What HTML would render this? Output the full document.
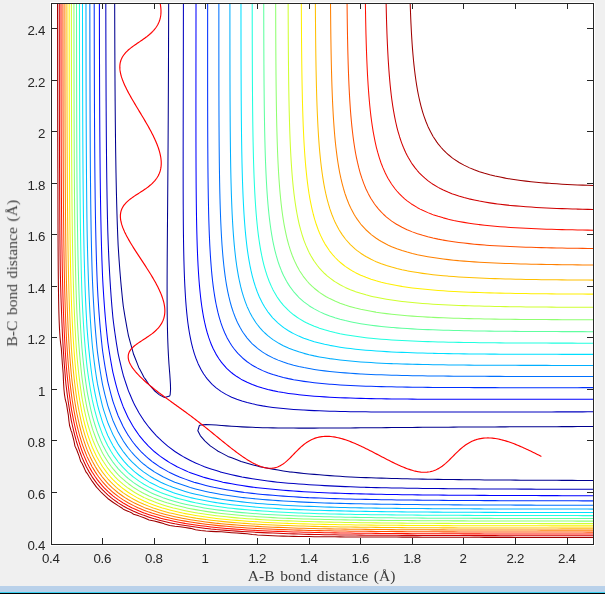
<!DOCTYPE html><html><head><meta charset="utf-8"><title>LEPS contour</title><style>
html,body{margin:0;padding:0;background:#f0f0f0;overflow:hidden}
svg{display:block}
.t{font-family:"Liberation Sans",Arial,Helvetica,sans-serif;font-size:13.3px;fill:#262626;letter-spacing:-0.3px}
.l{font-family:"Liberation Serif","Times New Roman",serif;font-size:15.5px;fill:#3c3c3c;letter-spacing:0.07px;word-spacing:1.5px}
</style></head><body>
<svg width="605" height="594" viewBox="0 0 605 594">
<rect x="0" y="0" width="605" height="594" fill="#f0f0f0"/>
<rect x="0" y="586" width="605" height="6" fill="#b9d1ea"/>
<rect x="0" y="592" width="605" height="1" fill="#3ccff0"/>
<rect x="0" y="593" width="605" height="1" fill="#000"/>
<rect x="50" y="2" width="545" height="544" fill="#fff"/>
<clipPath id="c"><rect x="51.5" y="3.5" width="542" height="541"/></clipPath>
<g clip-path="url(#c)" fill="none" stroke-width="1.05" stroke-linejoin="round">
<path stroke="#00008f" d="M593.00,480.44 L587.84,480.43 L582.68,480.42 L577.51,480.40 L572.35,480.38 L567.19,480.37 L562.03,480.35 L556.87,480.33 L551.70,480.31 L546.54,480.29 L541.38,480.26 L536.22,480.24 L531.06,480.21 L525.90,480.19 L520.73,480.16 L515.57,480.13 L510.41,480.09 L505.25,480.06 L500.09,480.02 L494.92,479.98 L489.76,479.94 L484.60,479.90 L479.44,479.85 L474.28,479.80 L469.11,479.75 L463.95,479.70 L458.79,479.64 L453.63,479.58 L448.47,479.51 L443.30,479.44 L438.14,479.36 L432.98,479.28 L427.82,479.20 L422.66,479.11 L417.50,479.01 L412.33,478.91 L407.17,478.80 L402.01,478.68 L396.85,478.55 L391.69,478.42 L386.52,478.28 L381.36,478.13 L376.20,477.97 L371.04,477.80 L365.88,477.62 L360.71,477.42 L355.55,477.22 L350.91,477.02 L350.39,476.99 L345.23,476.68 L340.07,476.34 L334.90,475.99 L329.74,475.62 L324.58,475.22 L319.42,474.81 L314.26,474.36 L309.10,473.90 L303.93,473.40 L298.77,472.89 L293.61,472.34 L289.38,471.87 L288.45,471.72 L283.29,470.90 L278.12,470.03 L272.96,469.14 L267.80,468.22 L262.64,467.26 L259.79,466.71 L257.48,466.10 L252.31,464.68 L247.15,463.26 L241.99,461.83 L241.06,461.56 L236.83,459.86 L231.67,457.85 L227.90,456.41 L226.50,455.64 L221.34,452.88 L218.10,451.26 L216.18,449.83 L211.02,446.40 L210.56,446.10 L205.86,441.80 L204.80,440.95 L200.70,436.07 L200.43,435.80 L197.85,430.65 L199.38,425.50 L200.70,425.05 L205.86,424.64 L211.02,424.79 L216.18,425.10 L221.34,425.45 L221.95,425.50 L226.50,425.88 L231.67,426.26 L236.83,426.60 L241.99,426.89 L247.15,427.14 L252.31,427.35 L257.48,427.52 L262.64,427.67 L267.80,427.79 L272.96,427.89 L278.12,427.96 L283.29,428.02 L288.45,428.06 L293.61,428.09 L298.77,428.11 L303.93,428.12 L309.10,428.11 L314.26,428.11 L319.42,428.09 L324.58,428.07 L329.74,428.04 L334.90,428.01 L340.07,427.98 L345.23,427.95 L350.39,427.91 L355.55,427.87 L360.71,427.83 L365.88,427.79 L371.04,427.75 L376.20,427.70 L381.36,427.66 L386.52,427.62 L391.69,427.58 L396.85,427.53 L402.01,427.49 L407.17,427.45 L412.33,427.41 L417.50,427.37 L422.66,427.34 L427.82,427.30 L432.98,427.26 L438.14,427.23 L443.30,427.19 L448.47,427.16 L453.63,427.12 L458.79,427.09 L463.95,427.06 L469.11,427.03 L474.28,427.00 L479.44,426.97 L484.60,426.95 L489.76,426.92 L494.92,426.90 L500.09,426.87 L505.25,426.85 L510.41,426.82 L515.57,426.80 L520.73,426.78 L525.90,426.76 L531.06,426.74 L536.22,426.72 L541.38,426.70 L546.54,426.69 L551.70,426.67 L556.87,426.65 L562.03,426.64 L567.19,426.62 L572.35,426.61 L577.51,426.59 L582.68,426.58 L587.84,426.57 L593.00,426.55 M168.66,3.00 L168.65,8.15 L168.64,13.30 L168.62,18.46 L168.61,23.61 L168.60,28.76 L168.58,33.91 L168.56,39.07 L168.55,44.22 L168.53,49.37 L168.51,54.52 L168.49,59.68 L168.48,64.83 L168.46,69.98 L168.44,75.13 L168.41,80.29 L168.39,85.44 L168.37,90.59 L168.34,95.74 L168.32,100.90 L168.29,106.05 L168.27,111.20 L168.24,116.35 L168.21,121.50 L168.18,126.66 L168.15,131.81 L168.12,136.96 L168.09,142.11 L168.06,147.27 L168.02,152.42 L167.99,157.57 L167.95,162.72 L167.92,167.88 L167.88,173.03 L167.84,178.18 L167.80,183.33 L167.76,188.49 L167.72,193.64 L167.68,198.79 L167.64,203.94 L167.60,209.10 L167.55,214.25 L167.51,219.40 L167.47,224.55 L167.43,229.70 L167.39,234.86 L167.35,240.01 L167.31,245.16 L167.27,250.31 L167.23,255.47 L167.20,260.62 L167.17,265.77 L167.15,270.92 L167.12,276.08 L167.11,281.23 L167.10,286.38 L167.10,291.53 L167.11,296.69 L167.12,301.84 L167.15,306.99 L167.19,312.14 L167.25,317.30 L167.33,322.45 L167.43,327.60 L167.55,332.75 L167.69,337.90 L167.87,343.06 L168.08,348.21 L168.33,353.36 L168.62,358.51 L168.95,363.67 L169.34,368.82 L169.72,373.37 L169.77,373.97 L170.12,379.12 L170.43,384.28 L170.58,389.43 L170.17,394.58 L169.72,395.89 L164.56,397.42 L159.40,394.85 L159.13,394.58 L154.24,390.49 L153.39,389.43 L149.08,384.74 L148.78,384.28 L145.34,379.12 L143.91,377.20 L142.29,373.97 L139.52,368.82 L138.75,367.43 L137.31,363.67 L135.29,358.51 L133.59,354.29 L133.32,353.36 L131.89,348.21 L130.47,343.06 L129.05,337.90 L128.43,335.59 L127.88,332.75 L126.92,327.60 L126.00,322.45 L125.10,317.30 L124.24,312.14 L123.41,306.99 L123.27,306.06 L122.79,301.84 L122.25,296.69 L121.73,291.53 L121.23,286.38 L120.76,281.23 L120.32,276.08 L119.90,270.92 L119.51,265.77 L119.13,260.62 L118.78,255.47 L118.45,250.31 L118.13,245.16 L118.10,244.65 L117.91,240.01 L117.70,234.86 L117.51,229.70 L117.32,224.55 L117.15,219.40 L116.99,214.25 L116.84,209.10 L116.70,203.94 L116.57,198.79 L116.44,193.64 L116.32,188.49 L116.21,183.33 L116.11,178.18 L116.01,173.03 L115.92,167.88 L115.84,162.72 L115.76,157.57 L115.68,152.42 L115.61,147.27 L115.54,142.11 L115.48,136.96 L115.42,131.81 L115.37,126.66 L115.31,121.50 L115.27,116.35 L115.22,111.20 L115.18,106.05 L115.13,100.90 L115.10,95.74 L115.06,90.59 L115.02,85.44 L114.99,80.29 L114.96,75.13 L114.93,69.98 L114.91,64.83 L114.88,59.68 L114.86,54.52 L114.83,49.37 L114.81,44.22 L114.79,39.07 L114.77,33.91 L114.75,28.76 L114.73,23.61 L114.72,18.46 L114.70,13.30 L114.69,8.15 L114.67,3.00"/>
<path stroke="#0000bf" d="M593.00,489.29 L587.84,489.29 L582.68,489.28 L577.51,489.27 L572.35,489.25 L567.19,489.24 L562.03,489.23 L556.87,489.22 L551.70,489.21 L546.54,489.19 L541.38,489.18 L536.22,489.16 L531.06,489.14 L525.90,489.12 L520.73,489.11 L515.57,489.09 L510.41,489.06 L505.25,489.04 L500.09,489.02 L494.92,488.99 L489.76,488.96 L484.60,488.93 L479.44,488.90 L474.28,488.87 L469.11,488.84 L463.95,488.80 L458.79,488.76 L453.63,488.72 L448.47,488.67 L443.30,488.62 L438.14,488.57 L432.98,488.52 L427.82,488.46 L422.66,488.40 L417.50,488.33 L412.33,488.26 L407.17,488.18 L402.01,488.10 L396.85,488.02 L391.69,487.92 L386.52,487.82 L381.36,487.72 L376.20,487.61 L371.04,487.49 L365.88,487.36 L364.62,487.32 L360.71,487.19 L355.55,487.01 L350.39,486.81 L345.23,486.61 L340.07,486.38 L334.90,486.14 L329.74,485.89 L324.58,485.62 L319.42,485.33 L314.26,485.02 L309.10,484.69 L303.93,484.34 L298.77,483.97 L293.61,483.58 L288.45,483.15 L283.29,482.71 L278.12,482.23 L277.52,482.17 L272.96,481.61 L267.80,480.94 L262.64,480.24 L257.48,479.49 L252.31,478.71 L247.15,477.89 L241.99,477.02 L241.98,477.02 L236.83,475.88 L231.67,474.70 L226.50,473.47 L221.34,472.20 L220.08,471.87 L216.18,470.62 L211.02,468.93 L205.86,467.21 L204.45,466.71 L200.70,465.13 L195.53,462.92 L192.44,461.56 L190.37,460.48 L185.21,457.74 L182.75,456.41 L180.05,454.71 L174.89,451.45 L174.60,451.26 L169.72,447.61 L167.75,446.10 L164.56,443.41 L161.75,440.95 L159.40,438.73 L156.46,435.80 L154.24,433.46 L151.77,430.65 L149.08,427.46 L147.57,425.50 L143.91,420.63 L143.73,420.34 L140.46,415.19 L138.75,412.49 L137.42,410.04 L134.67,404.89 L133.59,402.82 L132.23,399.73 L130.02,394.58 L128.43,390.83 L127.94,389.43 L126.21,384.28 L124.51,379.12 L123.27,375.23 L122.94,373.97 L121.66,368.82 L120.43,363.67 L119.25,358.51 L118.10,353.37 L118.10,353.36 L117.24,348.21 L116.41,343.06 L115.63,337.90 L114.88,332.75 L114.17,327.60 L113.50,322.45 L112.94,317.89 L112.88,317.30 L112.41,312.14 L111.96,306.99 L111.54,301.84 L111.14,296.69 L110.77,291.53 L110.42,286.38 L110.09,281.23 L109.78,276.08 L109.49,270.92 L109.22,265.77 L108.96,260.62 L108.72,255.47 L108.50,250.31 L108.29,245.16 L108.09,240.01 L107.91,234.86 L107.78,230.96 L107.75,229.70 L107.62,224.55 L107.50,219.40 L107.38,214.25 L107.28,209.10 L107.18,203.94 L107.09,198.79 L107.00,193.64 L106.92,188.49 L106.84,183.33 L106.77,178.18 L106.71,173.03 L106.64,167.88 L106.59,162.72 L106.53,157.57 L106.48,152.42 L106.43,147.27 L106.39,142.11 L106.34,136.96 L106.30,131.81 L106.27,126.66 L106.23,121.50 L106.20,116.35 L106.17,111.20 L106.14,106.05 L106.11,100.90 L106.08,95.74 L106.06,90.59 L106.04,85.44 L106.02,80.29 L106.00,75.13 L105.98,69.98 L105.96,64.83 L105.94,59.68 L105.93,54.52 L105.91,49.37 L105.90,44.22 L105.88,39.07 L105.87,33.91 L105.86,28.76 L105.85,23.61 L105.84,18.46 L105.83,13.30 L105.82,8.15 L105.81,3.00 M183.41,3.00 L183.41,8.15 L183.40,13.30 L183.39,18.46 L183.38,23.61 L183.37,28.76 L183.36,33.91 L183.36,39.07 L183.35,44.22 L183.34,49.37 L183.33,54.52 L183.32,59.68 L183.31,64.83 L183.30,69.98 L183.29,75.13 L183.28,80.29 L183.27,85.44 L183.26,90.59 L183.25,95.74 L183.24,100.90 L183.23,106.05 L183.22,111.20 L183.21,116.35 L183.20,121.50 L183.19,126.66 L183.18,131.81 L183.18,136.96 L183.17,142.11 L183.16,147.27 L183.16,152.42 L183.16,157.57 L183.15,162.72 L183.15,167.88 L183.15,173.03 L183.16,178.18 L183.16,183.33 L183.17,188.49 L183.18,193.64 L183.20,198.79 L183.21,203.94 L183.24,209.10 L183.27,214.25 L183.30,219.40 L183.34,224.55 L183.39,229.70 L183.45,234.86 L183.52,240.01 L183.60,245.16 L183.69,250.31 L183.80,255.47 L183.92,260.62 L184.06,265.77 L184.22,270.92 L184.41,276.08 L184.62,281.23 L184.87,286.38 L185.15,291.53 L185.21,292.46 L185.46,296.69 L185.81,301.84 L186.22,306.99 L186.69,312.14 L187.22,317.30 L187.84,322.45 L188.56,327.60 L189.39,332.75 L190.36,337.90 L190.37,337.95 L191.45,343.06 L192.73,348.21 L194.24,353.36 L195.53,357.14 L196.02,358.51 L198.11,363.67 L200.64,368.82 L200.70,368.91 L203.68,373.97 L205.86,377.07 L207.44,379.12 L211.02,383.14 L212.15,384.28 L216.18,387.85 L218.24,389.43 L221.34,391.60 L226.41,394.58 L226.50,394.63 L231.67,397.16 L236.83,399.25 L238.21,399.73 L241.99,401.03 L247.15,402.53 L252.31,403.81 L257.43,404.89 L257.48,404.90 L262.64,405.86 L267.80,406.69 L272.96,407.41 L278.12,408.03 L283.29,408.56 L288.45,409.03 L293.61,409.43 L298.77,409.79 L303.01,410.04 L303.93,410.10 L309.10,410.38 L314.26,410.62 L319.42,410.84 L324.58,411.02 L329.74,411.19 L334.90,411.33 L340.07,411.45 L345.23,411.56 L350.39,411.65 L355.55,411.73 L360.71,411.79 L365.88,411.85 L371.04,411.90 L376.20,411.94 L381.36,411.98 L386.52,412.01 L391.69,412.03 L396.85,412.05 L402.01,412.06 L407.17,412.07 L412.33,412.08 L417.50,412.09 L422.66,412.09 L427.82,412.09 L432.98,412.09 L438.14,412.09 L443.30,412.08 L448.47,412.08 L453.63,412.07 L458.79,412.07 L463.95,412.06 L469.11,412.05 L474.28,412.04 L479.44,412.03 L484.60,412.02 L489.76,412.01 L494.92,412.00 L500.09,411.99 L505.25,411.98 L510.41,411.97 L515.57,411.96 L520.73,411.96 L525.90,411.95 L531.06,411.94 L536.22,411.93 L541.38,411.92 L546.54,411.91 L551.70,411.90 L556.87,411.89 L562.03,411.88 L567.19,411.87 L572.35,411.86 L577.51,411.85 L582.68,411.85 L587.84,411.84 L593.00,411.83"/>
<path stroke="#0000ff" d="M593.00,495.70 L587.84,495.69 L582.68,495.69 L577.51,495.68 L572.35,495.67 L567.19,495.66 L562.03,495.65 L556.87,495.64 L551.70,495.63 L546.54,495.61 L541.38,495.60 L536.22,495.59 L531.06,495.57 L525.90,495.56 L520.73,495.54 L515.57,495.52 L510.41,495.50 L505.25,495.48 L500.09,495.46 L494.92,495.44 L489.76,495.42 L484.60,495.39 L479.44,495.37 L474.28,495.34 L469.11,495.31 L463.95,495.28 L458.79,495.24 L453.63,495.20 L448.47,495.17 L443.30,495.12 L438.14,495.08 L432.98,495.03 L427.82,494.98 L422.66,494.93 L417.50,494.87 L412.33,494.81 L407.17,494.74 L402.01,494.67 L396.85,494.59 L391.69,494.51 L386.52,494.42 L381.36,494.33 L376.20,494.23 L371.04,494.13 L365.88,494.01 L360.71,493.89 L355.55,493.76 L350.39,493.62 L345.23,493.47 L340.07,493.31 L334.90,493.14 L329.74,492.96 L324.58,492.76 L319.42,492.55 L317.71,492.48 L314.26,492.29 L309.10,492.00 L303.93,491.69 L298.77,491.36 L293.61,491.00 L288.45,490.62 L283.29,490.22 L278.12,489.79 L272.96,489.33 L267.80,488.84 L262.64,488.32 L257.48,487.76 L253.64,487.32 L252.31,487.14 L247.15,486.38 L241.99,485.58 L236.83,484.73 L231.67,483.84 L226.50,482.89 L222.78,482.17 L221.34,481.84 L216.18,480.57 L211.02,479.25 L205.86,477.87 L202.84,477.02 L200.70,476.31 L195.53,474.50 L190.37,472.64 L188.33,471.87 L185.21,470.49 L180.05,468.13 L177.07,466.71 L174.89,465.52 L169.72,462.60 L167.98,461.56 L164.56,459.28 L160.41,456.41 L159.40,455.64 L154.24,451.48 L153.98,451.26 L149.08,446.68 L148.50,446.10 L143.91,441.21 L143.69,440.95 L139.53,435.80 L138.75,434.79 L135.88,430.65 L133.59,427.23 L132.55,425.50 L129.62,420.34 L128.43,418.16 L127.01,415.19 L124.64,410.04 L123.27,406.93 L122.49,404.89 L120.62,399.73 L118.82,394.58 L118.10,392.44 L117.25,389.43 L115.87,384.28 L114.55,379.12 L113.28,373.97 L112.94,372.53 L112.22,368.82 L111.28,363.67 L110.38,358.51 L109.53,353.36 L108.72,348.21 L107.96,343.06 L107.78,341.74 L107.34,337.90 L106.79,332.75 L106.26,327.60 L105.77,322.45 L105.31,317.30 L104.88,312.14 L104.48,306.99 L104.10,301.84 L103.74,296.69 L103.41,291.53 L103.09,286.38 L102.80,281.23 L102.62,277.78 L102.54,276.08 L102.33,270.92 L102.14,265.77 L101.95,260.62 L101.78,255.47 L101.62,250.31 L101.47,245.16 L101.33,240.01 L101.20,234.86 L101.08,229.70 L100.97,224.55 L100.86,219.40 L100.76,214.25 L100.67,209.10 L100.58,203.94 L100.50,198.79 L100.42,193.64 L100.35,188.49 L100.29,183.33 L100.22,178.18 L100.16,173.03 L100.11,167.88 L100.06,162.72 L100.01,157.57 L99.97,152.42 L99.93,147.27 L99.89,142.11 L99.85,136.96 L99.81,131.81 L99.78,126.66 L99.75,121.50 L99.72,116.35 L99.70,111.20 L99.67,106.05 L99.65,100.90 L99.63,95.74 L99.60,90.59 L99.59,85.44 L99.57,80.29 L99.55,75.13 L99.53,69.98 L99.52,64.83 L99.50,59.68 L99.49,54.52 L99.48,49.37 L99.46,44.22 L99.45,39.07 L99.44,33.91 L99.43,28.76 L99.42,23.61 L99.41,18.46 L99.40,13.30 L99.40,8.15 L99.39,3.00 M196.01,3.00 L196.01,8.15 L196.00,13.30 L196.00,18.46 L195.99,23.61 L195.99,28.76 L195.98,33.91 L195.98,39.07 L195.97,44.22 L195.97,49.37 L195.96,54.52 L195.96,59.68 L195.95,64.83 L195.95,69.98 L195.95,75.13 L195.94,80.29 L195.94,85.44 L195.94,90.59 L195.94,95.74 L195.93,100.90 L195.93,106.05 L195.93,111.20 L195.94,116.35 L195.94,121.50 L195.94,126.66 L195.95,131.81 L195.95,136.96 L195.96,142.11 L195.97,147.27 L195.99,152.42 L196.00,157.57 L196.02,162.72 L196.04,167.88 L196.07,173.03 L196.10,178.18 L196.13,183.33 L196.17,188.49 L196.22,193.64 L196.27,198.79 L196.33,203.94 L196.40,209.10 L196.47,214.25 L196.56,219.40 L196.66,224.55 L196.77,229.70 L196.90,234.86 L197.04,240.01 L197.20,245.16 L197.38,250.31 L197.59,255.47 L197.82,260.62 L198.08,265.77 L198.38,270.92 L198.71,276.08 L199.09,281.23 L199.52,286.38 L200.01,291.53 L200.56,296.69 L200.70,297.83 L201.18,301.84 L201.88,306.99 L202.68,312.14 L203.60,317.30 L204.65,322.45 L205.86,327.57 L205.86,327.60 L207.26,332.75 L208.87,337.90 L210.76,343.06 L211.02,343.69 L212.98,348.21 L215.60,353.36 L216.18,354.38 L218.74,358.51 L221.34,362.14 L222.55,363.67 L226.50,368.08 L227.24,368.82 L231.67,372.77 L233.20,373.97 L236.83,376.57 L240.97,379.12 L241.99,379.71 L247.15,382.32 L251.68,384.28 L252.31,384.54 L257.48,386.42 L262.64,388.03 L267.80,389.42 L267.83,389.43 L272.96,390.63 L278.12,391.68 L283.29,392.60 L288.45,393.40 L293.61,394.10 L297.63,394.58 L298.77,394.72 L303.93,395.27 L309.10,395.75 L314.26,396.18 L319.42,396.56 L324.58,396.89 L329.74,397.19 L334.90,397.45 L340.07,397.68 L345.23,397.89 L350.39,398.07 L355.55,398.23 L360.71,398.37 L365.88,398.50 L371.04,398.61 L376.20,398.71 L381.36,398.80 L386.52,398.87 L391.69,398.94 L396.85,399.00 L402.01,399.05 L407.17,399.10 L412.33,399.14 L417.50,399.17 L422.66,399.20 L427.82,399.23 L432.98,399.25 L438.14,399.27 L443.30,399.28 L448.47,399.29 L453.63,399.31 L458.79,399.31 L463.95,399.32 L469.11,399.33 L474.28,399.33 L479.44,399.33 L484.60,399.33 L489.76,399.33 L494.92,399.33 L500.09,399.33 L505.25,399.33 L510.41,399.33 L515.57,399.32 L520.73,399.32 L525.90,399.32 L531.06,399.31 L536.22,399.31 L541.38,399.31 L546.54,399.30 L551.70,399.30 L556.87,399.29 L562.03,399.29 L567.19,399.28 L572.35,399.28 L577.51,399.27 L582.68,399.27 L587.84,399.26 L593.00,399.26"/>
<path stroke="#0030ff" d="M593.00,500.86 L587.84,500.85 L582.68,500.85 L577.51,500.84 L572.35,500.83 L567.19,500.82 L562.03,500.82 L556.87,500.81 L551.70,500.80 L546.54,500.79 L541.38,500.77 L536.22,500.76 L531.06,500.75 L525.90,500.74 L520.73,500.72 L515.57,500.71 L510.41,500.69 L505.25,500.68 L500.09,500.66 L494.92,500.64 L489.76,500.62 L484.60,500.60 L479.44,500.57 L474.28,500.55 L469.11,500.52 L463.95,500.49 L458.79,500.46 L453.63,500.43 L448.47,500.40 L443.30,500.36 L438.14,500.32 L432.98,500.28 L427.82,500.24 L422.66,500.19 L417.50,500.14 L412.33,500.08 L407.17,500.03 L402.01,499.96 L396.85,499.90 L391.69,499.83 L386.52,499.75 L381.36,499.67 L376.20,499.58 L371.04,499.49 L365.88,499.39 L360.71,499.28 L355.55,499.17 L350.39,499.04 L345.23,498.91 L340.07,498.77 L334.90,498.62 L329.74,498.45 L324.58,498.28 L319.42,498.09 L314.26,497.89 L309.10,497.68 L308.02,497.63 L303.93,497.41 L298.77,497.12 L293.61,496.80 L288.45,496.47 L283.29,496.11 L278.12,495.72 L272.96,495.31 L267.80,494.87 L262.64,494.40 L257.48,493.90 L252.31,493.37 L247.15,492.80 L244.40,492.48 L241.99,492.14 L236.83,491.37 L231.67,490.56 L226.50,489.69 L221.34,488.78 L216.18,487.81 L213.76,487.32 L211.02,486.68 L205.86,485.40 L200.70,484.05 L195.53,482.63 L193.95,482.17 L190.37,480.96 L185.21,479.12 L180.05,477.21 L179.56,477.02 L174.89,474.90 L169.72,472.48 L168.49,471.87 L164.56,469.66 L159.52,466.71 L159.40,466.63 L154.24,463.04 L152.22,461.56 L149.08,459.03 L146.02,456.41 L143.91,454.45 L140.71,451.26 L138.75,449.16 L136.13,446.10 L133.59,442.96 L132.11,440.95 L128.51,435.80 L128.43,435.68 L125.48,430.65 L123.27,426.73 L122.65,425.50 L120.22,420.34 L118.10,415.68 L117.91,415.19 L116.00,410.04 L114.16,404.89 L112.94,401.31 L112.48,399.73 L111.06,394.58 L109.71,389.43 L108.43,384.28 L107.78,381.54 L107.30,379.12 L106.33,373.97 L105.41,368.82 L104.54,363.67 L103.73,358.51 L102.96,353.36 L102.62,350.95 L102.29,348.21 L101.73,343.06 L101.19,337.90 L100.69,332.75 L100.22,327.60 L99.78,322.45 L99.37,317.30 L98.98,312.14 L98.62,306.99 L98.29,301.84 L97.97,296.69 L97.68,291.53 L97.46,287.46 L97.41,286.38 L97.19,281.23 L96.99,276.08 L96.81,270.92 L96.63,265.77 L96.47,260.62 L96.32,255.47 L96.17,250.31 L96.04,245.16 L95.92,240.01 L95.80,234.86 L95.69,229.70 L95.59,224.55 L95.50,219.40 L95.41,214.25 L95.33,209.10 L95.26,203.94 L95.18,198.79 L95.12,193.64 L95.06,188.49 L95.00,183.33 L94.94,178.18 L94.89,173.03 L94.84,167.88 L94.80,162.72 L94.76,157.57 L94.72,152.42 L94.68,147.27 L94.65,142.11 L94.62,136.96 L94.59,131.81 L94.56,126.66 L94.53,121.50 L94.51,116.35 L94.48,111.20 L94.46,106.05 L94.44,100.90 L94.42,95.74 L94.41,90.59 L94.39,85.44 L94.37,80.29 L94.36,75.13 L94.34,69.98 L94.33,64.83 L94.32,59.68 L94.31,54.52 L94.29,49.37 L94.28,44.22 L94.27,39.07 L94.26,33.91 L94.26,28.76 L94.25,23.61 L94.24,18.46 L94.23,13.30 L94.23,8.15 L94.22,3.00 M207.65,3.00 L207.65,8.15 L207.64,13.30 L207.64,18.46 L207.64,23.61 L207.64,28.76 L207.63,33.91 L207.63,39.07 L207.63,44.22 L207.63,49.37 L207.63,54.52 L207.63,59.68 L207.63,64.83 L207.63,69.98 L207.63,75.13 L207.63,80.29 L207.63,85.44 L207.64,90.59 L207.64,95.74 L207.65,100.90 L207.66,106.05 L207.67,111.20 L207.68,116.35 L207.69,121.50 L207.70,126.66 L207.72,131.81 L207.74,136.96 L207.76,142.11 L207.79,147.27 L207.82,152.42 L207.85,157.57 L207.89,162.72 L207.93,167.88 L207.98,173.03 L208.04,178.18 L208.10,183.33 L208.17,188.49 L208.25,193.64 L208.34,198.79 L208.44,203.94 L208.55,209.10 L208.67,214.25 L208.81,219.40 L208.97,224.55 L209.14,229.70 L209.34,234.86 L209.56,240.01 L209.80,245.16 L210.08,250.31 L210.39,255.47 L210.74,260.62 L211.02,264.34 L211.13,265.77 L211.56,270.92 L212.05,276.08 L212.61,281.23 L213.23,286.38 L213.94,291.53 L214.74,296.69 L215.65,301.84 L216.18,304.52 L216.68,306.99 L217.87,312.14 L219.23,317.30 L220.78,322.45 L221.34,324.09 L222.60,327.60 L224.70,332.75 L226.50,336.58 L227.17,337.90 L230.11,343.06 L231.67,345.46 L233.62,348.21 L236.83,352.18 L237.88,353.36 L241.99,357.46 L243.17,358.51 L247.15,361.72 L249.91,363.67 L252.31,365.22 L257.48,368.15 L258.81,368.82 L262.64,370.62 L267.80,372.72 L271.32,373.97 L272.96,374.53 L278.12,376.08 L283.29,377.44 L288.45,378.62 L290.92,379.12 L293.61,379.66 L298.77,380.56 L303.93,381.36 L309.10,382.07 L314.26,382.69 L319.42,383.24 L324.58,383.73 L329.74,384.17 L331.18,384.28 L334.90,384.56 L340.07,384.90 L345.23,385.21 L350.39,385.49 L355.55,385.73 L360.71,385.95 L365.88,386.15 L371.04,386.32 L376.20,386.48 L381.36,386.62 L386.52,386.74 L391.69,386.85 L396.85,386.95 L402.01,387.04 L407.17,387.12 L412.33,387.19 L417.50,387.25 L422.66,387.31 L427.82,387.36 L432.98,387.40 L438.14,387.44 L443.30,387.47 L448.47,387.50 L453.63,387.53 L458.79,387.55 L463.95,387.57 L469.11,387.59 L474.28,387.60 L479.44,387.61 L484.60,387.62 L489.76,387.63 L494.92,387.64 L500.09,387.65 L505.25,387.65 L510.41,387.65 L515.57,387.66 L520.73,387.66 L525.90,387.66 L531.06,387.66 L536.22,387.66 L541.38,387.66 L546.54,387.66 L551.70,387.66 L556.87,387.66 L562.03,387.65 L567.19,387.65 L572.35,387.65 L577.51,387.65 L582.68,387.64 L587.84,387.64 L593.00,387.64"/>
<path stroke="#0070ff" d="M593.00,505.23 L587.84,505.23 L582.68,505.22 L577.51,505.22 L572.35,505.21 L567.19,505.20 L562.03,505.19 L556.87,505.19 L551.70,505.18 L546.54,505.17 L541.38,505.16 L536.22,505.15 L531.06,505.14 L525.90,505.13 L520.73,505.11 L515.57,505.10 L510.41,505.09 L505.25,505.07 L500.09,505.06 L494.92,505.04 L489.76,505.02 L484.60,505.00 L479.44,504.98 L474.28,504.96 L469.11,504.94 L463.95,504.91 L458.79,504.89 L453.63,504.86 L448.47,504.83 L443.30,504.80 L438.14,504.76 L432.98,504.73 L427.82,504.69 L422.66,504.65 L417.50,504.60 L412.33,504.56 L407.17,504.50 L402.01,504.45 L396.85,504.39 L391.69,504.33 L386.52,504.26 L381.36,504.19 L376.20,504.11 L371.04,504.03 L365.88,503.94 L360.71,503.85 L355.55,503.75 L350.39,503.64 L345.23,503.52 L340.07,503.39 L334.90,503.26 L329.74,503.12 L324.58,502.96 L319.42,502.79 L319.04,502.78 L314.26,502.59 L309.10,502.36 L303.93,502.12 L298.77,501.86 L293.61,501.58 L288.45,501.28 L283.29,500.96 L278.12,500.62 L272.96,500.26 L267.80,499.86 L262.64,499.45 L257.48,499.00 L252.31,498.52 L247.15,498.01 L243.59,497.63 L241.99,497.43 L236.83,496.74 L231.67,496.01 L226.50,495.23 L221.34,494.40 L216.18,493.52 L211.02,492.58 L210.46,492.48 L205.86,491.44 L200.70,490.20 L195.53,488.90 L190.37,487.53 L189.66,487.32 L185.21,485.86 L180.05,484.08 L174.89,482.22 L174.77,482.17 L169.72,479.94 L164.56,477.57 L163.44,477.02 L159.40,474.79 L154.33,471.87 L154.24,471.81 L149.08,468.26 L146.96,466.71 L143.91,464.28 L140.73,461.56 L138.75,459.73 L135.42,456.41 L133.59,454.44 L130.87,451.26 L128.43,448.22 L126.88,446.10 L123.33,440.95 L123.27,440.86 L120.34,435.80 L118.10,431.77 L117.55,430.65 L115.17,425.50 L112.94,420.46 L112.90,420.34 L111.03,415.19 L109.25,410.04 L107.78,405.59 L107.58,404.89 L106.20,399.73 L104.90,394.58 L103.66,389.43 L102.62,384.83 L102.51,384.28 L101.57,379.12 L100.69,373.97 L99.86,368.82 L99.08,363.67 L98.35,358.51 L97.66,353.36 L97.46,351.76 L97.08,348.21 L96.57,343.06 L96.09,337.90 L95.64,332.75 L95.22,327.60 L94.83,322.45 L94.46,317.30 L94.12,312.14 L93.80,306.99 L93.50,301.84 L93.22,296.69 L92.96,291.53 L92.72,286.38 L92.49,281.23 L92.30,276.46 L92.28,276.08 L92.12,270.92 L91.96,265.77 L91.82,260.62 L91.68,255.47 L91.55,250.31 L91.44,245.16 L91.33,240.01 L91.23,234.86 L91.13,229.70 L91.04,224.55 L90.96,219.40 L90.88,214.25 L90.81,209.10 L90.74,203.94 L90.68,198.79 L90.62,193.64 L90.57,188.49 L90.52,183.33 L90.47,178.18 L90.43,173.03 L90.38,167.88 L90.34,162.72 L90.31,157.57 L90.27,152.42 L90.24,147.27 L90.21,142.11 L90.18,136.96 L90.16,131.81 L90.13,126.66 L90.11,121.50 L90.09,116.35 L90.07,111.20 L90.05,106.05 L90.03,100.90 L90.02,95.74 L90.00,90.59 L89.99,85.44 L89.97,80.29 L89.96,75.13 L89.95,69.98 L89.93,64.83 L89.92,59.68 L89.91,54.52 L89.90,49.37 L89.89,44.22 L89.89,39.07 L89.88,33.91 L89.87,28.76 L89.86,23.61 L89.86,18.46 L89.85,13.30 L89.84,8.15 L89.84,3.00 M218.86,3.00 L218.86,8.15 L218.86,13.30 L218.86,18.46 L218.86,23.61 L218.86,28.76 L218.86,33.91 L218.86,39.07 L218.86,44.22 L218.86,49.37 L218.87,54.52 L218.87,59.68 L218.87,64.83 L218.88,69.98 L218.88,75.13 L218.89,80.29 L218.90,85.44 L218.91,90.59 L218.92,95.74 L218.94,100.90 L218.95,106.05 L218.97,111.20 L218.99,116.35 L219.01,121.50 L219.04,126.66 L219.07,131.81 L219.10,136.96 L219.14,142.11 L219.18,147.27 L219.23,152.42 L219.28,157.57 L219.34,162.72 L219.40,167.88 L219.48,173.03 L219.56,178.18 L219.65,183.33 L219.75,188.49 L219.87,193.64 L219.99,198.79 L220.13,203.94 L220.29,209.10 L220.47,214.25 L220.66,219.40 L220.88,224.55 L221.13,229.70 L221.34,233.78 L221.40,234.86 L221.70,240.01 L222.04,245.16 L222.42,250.31 L222.85,255.47 L223.33,260.62 L223.86,265.77 L224.46,270.92 L225.14,276.08 L225.90,281.23 L226.50,284.84 L226.77,286.38 L227.75,291.53 L228.87,296.69 L230.14,301.84 L231.59,306.99 L231.67,307.25 L233.27,312.14 L235.21,317.30 L236.83,321.07 L237.46,322.45 L240.12,327.60 L241.99,330.78 L243.25,332.75 L247.00,337.90 L247.15,338.09 L251.60,343.06 L252.31,343.77 L257.29,348.21 L257.48,348.36 L262.64,352.10 L264.62,353.36 L267.80,355.23 L272.96,357.88 L274.34,358.51 L278.12,360.13 L283.29,362.07 L288.19,363.67 L288.45,363.75 L293.61,365.19 L298.77,366.46 L303.93,367.57 L309.10,368.56 L310.64,368.82 L314.26,369.42 L319.42,370.18 L324.58,370.86 L329.74,371.46 L334.90,371.99 L340.07,372.47 L345.23,372.89 L350.39,373.27 L355.55,373.61 L360.71,373.91 L361.79,373.97 L365.88,374.19 L371.04,374.43 L376.20,374.65 L381.36,374.84 L386.52,375.02 L391.69,375.18 L396.85,375.32 L402.01,375.45 L407.17,375.56 L412.33,375.66 L417.50,375.75 L422.66,375.83 L427.82,375.91 L432.98,375.97 L438.14,376.03 L443.30,376.08 L448.47,376.13 L453.63,376.17 L458.79,376.21 L463.95,376.24 L469.11,376.27 L474.28,376.30 L479.44,376.32 L484.60,376.34 L489.76,376.36 L494.92,376.37 L500.09,376.39 L505.25,376.40 L510.41,376.41 L515.57,376.42 L520.73,376.43 L525.90,376.43 L531.06,376.44 L536.22,376.44 L541.38,376.44 L546.54,376.45 L551.70,376.45 L556.87,376.45 L562.03,376.45 L567.19,376.45 L572.35,376.45 L577.51,376.45 L582.68,376.45 L587.84,376.45 L593.00,376.45"/>
<path stroke="#00afff" d="M593.00,509.10 L587.84,509.09 L582.68,509.09 L577.51,509.08 L572.35,509.08 L567.19,509.07 L562.03,509.06 L556.87,509.06 L551.70,509.05 L546.54,509.04 L541.38,509.03 L536.22,509.02 L531.06,509.01 L525.90,509.00 L520.73,508.99 L515.57,508.98 L510.41,508.97 L505.25,508.96 L500.09,508.94 L494.92,508.93 L489.76,508.91 L484.60,508.90 L479.44,508.88 L474.28,508.86 L469.11,508.84 L463.95,508.82 L458.79,508.80 L453.63,508.77 L448.47,508.75 L443.30,508.72 L438.14,508.69 L432.98,508.66 L427.82,508.62 L422.66,508.58 L417.50,508.55 L412.33,508.50 L407.17,508.46 L402.01,508.41 L396.85,508.36 L391.69,508.30 L386.52,508.24 L381.36,508.18 L376.20,508.11 L371.04,508.04 L365.88,507.96 L364.11,507.93 L360.71,507.87 L355.55,507.76 L350.39,507.65 L345.23,507.53 L340.07,507.40 L334.90,507.26 L329.74,507.11 L324.58,506.95 L319.42,506.77 L314.26,506.59 L309.10,506.39 L303.93,506.17 L298.77,505.95 L293.61,505.70 L288.45,505.44 L283.29,505.15 L278.12,504.85 L272.96,504.52 L267.80,504.17 L262.64,503.80 L257.48,503.40 L252.31,502.97 L250.18,502.78 L247.15,502.47 L241.99,501.89 L236.83,501.28 L231.67,500.62 L226.50,499.92 L221.34,499.18 L216.18,498.38 L211.60,497.63 L211.02,497.52 L205.86,496.47 L200.70,495.35 L195.53,494.16 L190.37,492.91 L188.70,492.48 L185.21,491.43 L180.05,489.80 L174.89,488.08 L172.75,487.32 L169.72,486.11 L164.56,483.90 L160.72,482.17 L159.40,481.50 L154.24,478.72 L151.26,477.02 L149.08,475.63 L143.91,472.16 L143.50,471.87 L138.75,468.09 L137.13,466.71 L133.59,463.44 L131.71,461.56 L128.43,458.03 L127.05,456.41 L123.27,451.67 L122.97,451.26 L119.49,446.10 L118.10,443.93 L116.40,440.95 L113.61,435.80 L112.94,434.48 L111.21,430.65 L109.00,425.50 L107.78,422.48 L107.02,420.34 L105.30,415.19 L103.66,410.04 L102.62,406.55 L102.18,404.89 L100.93,399.73 L99.74,394.58 L98.62,389.43 L97.57,384.28 L97.46,383.70 L96.70,379.12 L95.91,373.97 L95.16,368.82 L94.46,363.67 L93.80,358.51 L93.19,353.36 L92.61,348.21 L92.30,345.19 L92.10,343.06 L91.67,337.90 L91.27,332.75 L90.90,327.60 L90.55,322.45 L90.22,317.30 L89.92,312.14 L89.64,306.99 L89.37,301.84 L89.13,296.69 L88.90,291.53 L88.68,286.38 L88.48,281.23 L88.30,276.08 L88.12,270.92 L87.96,265.77 L87.81,260.62 L87.67,255.47 L87.54,250.31 L87.42,245.16 L87.30,240.01 L87.20,234.86 L87.13,231.47 L87.10,229.70 L87.03,224.55 L86.95,219.40 L86.88,214.25 L86.82,209.10 L86.76,203.94 L86.71,198.79 L86.66,193.64 L86.61,188.49 L86.56,183.33 L86.52,178.18 L86.48,173.03 L86.44,167.88 L86.41,162.72 L86.38,157.57 L86.35,152.42 L86.32,147.27 L86.29,142.11 L86.27,136.96 L86.25,131.81 L86.22,126.66 L86.20,121.50 L86.19,116.35 L86.17,111.20 L86.15,106.05 L86.14,100.90 L86.12,95.74 L86.11,90.59 L86.09,85.44 L86.08,80.29 L86.07,75.13 L86.06,69.98 L86.05,64.83 L86.04,59.68 L86.03,54.52 L86.02,49.37 L86.02,44.22 L86.01,39.07 L86.00,33.91 L85.99,28.76 L85.99,23.61 L85.98,18.46 L85.98,13.30 L85.97,8.15 L85.97,3.00 M229.91,3.00 L229.91,8.15 L229.91,13.30 L229.91,18.46 L229.92,23.61 L229.92,28.76 L229.92,33.91 L229.93,39.07 L229.93,44.22 L229.94,49.37 L229.94,54.52 L229.95,59.68 L229.96,64.83 L229.97,69.98 L229.98,75.13 L229.99,80.29 L230.01,85.44 L230.02,90.59 L230.04,95.74 L230.06,100.90 L230.09,106.05 L230.12,111.20 L230.15,116.35 L230.18,121.50 L230.22,126.66 L230.26,131.81 L230.31,136.96 L230.36,142.11 L230.42,147.27 L230.49,152.42 L230.56,157.57 L230.64,162.72 L230.73,167.88 L230.83,173.03 L230.95,178.18 L231.07,183.33 L231.21,188.49 L231.36,193.64 L231.54,198.79 L231.67,202.35 L231.73,203.94 L231.94,209.10 L232.17,214.25 L232.44,219.40 L232.73,224.55 L233.06,229.70 L233.42,234.86 L233.83,240.01 L234.28,245.16 L234.79,250.31 L235.36,255.47 L235.99,260.62 L236.71,265.77 L236.83,266.58 L237.52,270.92 L238.43,276.08 L239.47,281.23 L240.64,286.38 L241.97,291.53 L241.99,291.61 L243.51,296.69 L245.28,301.84 L247.15,306.63 L247.30,306.99 L249.69,312.14 L252.31,317.05 L252.46,317.30 L255.78,322.45 L257.48,324.76 L259.75,327.60 L262.64,330.80 L264.60,332.75 L267.80,335.63 L270.64,337.90 L272.96,339.60 L278.12,342.91 L278.37,343.06 L283.29,345.67 L288.45,348.06 L288.80,348.21 L293.61,350.08 L298.77,351.84 L303.86,353.36 L303.93,353.38 L309.10,354.71 L314.26,355.88 L319.42,356.91 L324.58,357.83 L328.94,358.51 L329.74,358.64 L334.90,359.35 L340.07,359.98 L345.23,360.55 L350.39,361.06 L355.55,361.51 L360.71,361.92 L365.88,362.28 L371.04,362.60 L376.20,362.90 L381.36,363.16 L386.52,363.40 L391.69,363.61 L393.28,363.67 L396.85,363.80 L402.01,363.97 L407.17,364.12 L412.33,364.26 L417.50,364.38 L422.66,364.50 L427.82,364.60 L432.98,364.69 L438.14,364.77 L443.30,364.84 L448.47,364.91 L453.63,364.97 L458.79,365.02 L463.95,365.07 L469.11,365.11 L474.28,365.15 L479.44,365.18 L484.60,365.21 L489.76,365.24 L494.92,365.27 L500.09,365.29 L505.25,365.31 L510.41,365.32 L515.57,365.34 L520.73,365.35 L525.90,365.36 L531.06,365.37 L536.22,365.38 L541.38,365.39 L546.54,365.39 L551.70,365.40 L556.87,365.40 L562.03,365.41 L567.19,365.41 L572.35,365.41 L577.51,365.42 L582.68,365.42 L587.84,365.42 L593.00,365.42"/>
<path stroke="#00dfff" d="M593.00,512.56 L587.84,512.56 L582.68,512.55 L577.51,512.54 L572.35,512.54 L567.19,512.53 L562.03,512.53 L556.87,512.52 L551.70,512.51 L546.54,512.50 L541.38,512.49 L536.22,512.49 L531.06,512.48 L525.90,512.47 L520.73,512.45 L515.57,512.44 L510.41,512.43 L505.25,512.42 L500.09,512.40 L494.92,512.39 L489.76,512.37 L484.60,512.36 L479.44,512.34 L474.28,512.32 L469.11,512.30 L463.95,512.28 L458.79,512.25 L453.63,512.23 L448.47,512.20 L443.30,512.17 L438.14,512.14 L432.98,512.11 L427.82,512.07 L422.66,512.03 L417.50,511.99 L412.33,511.95 L407.17,511.91 L402.01,511.86 L396.85,511.80 L391.69,511.75 L386.52,511.68 L381.36,511.62 L376.20,511.55 L371.04,511.47 L365.88,511.39 L360.71,511.31 L355.55,511.21 L350.39,511.11 L345.23,511.01 L340.07,510.89 L334.90,510.77 L329.74,510.64 L324.58,510.49 L319.42,510.34 L314.26,510.18 L309.10,510.00 L303.93,509.81 L298.77,509.61 L293.61,509.39 L288.45,509.15 L283.29,508.90 L278.12,508.63 L272.96,508.34 L267.80,508.03 L266.28,507.93 L262.64,507.66 L257.48,507.24 L252.31,506.80 L247.15,506.32 L241.99,505.81 L236.83,505.26 L231.67,504.67 L226.50,504.05 L221.34,503.38 L217.06,502.78 L216.18,502.64 L211.02,501.75 L205.86,500.81 L200.70,499.80 L195.53,498.73 L190.53,497.63 L190.37,497.59 L185.21,496.19 L180.05,494.71 L174.89,493.14 L172.86,492.48 L169.72,491.32 L164.56,489.30 L159.77,487.32 L159.40,487.15 L154.24,484.58 L149.64,482.17 L149.08,481.84 L143.91,478.61 L141.53,477.02 L138.75,474.98 L134.77,471.87 L133.59,470.85 L129.09,466.71 L128.43,466.05 L124.28,461.56 L123.27,460.38 L120.14,456.41 L118.10,453.64 L116.51,451.26 L113.27,446.10 L112.94,445.54 L110.53,440.95 L107.95,435.80 L107.78,435.43 L105.80,430.65 L103.78,425.50 L102.62,422.37 L101.96,420.34 L100.39,415.19 L98.90,410.04 L97.50,404.89 L97.46,404.72 L96.35,399.73 L95.28,394.58 L94.27,389.43 L93.33,384.28 L92.44,379.12 L92.30,378.25 L91.70,373.97 L91.03,368.82 L90.40,363.67 L89.81,358.51 L89.27,353.36 L88.75,348.21 L88.27,343.06 L87.83,337.90 L87.41,332.75 L87.13,329.12 L87.03,327.60 L86.72,322.45 L86.43,317.30 L86.16,312.14 L85.91,306.99 L85.67,301.84 L85.46,296.69 L85.25,291.53 L85.06,286.38 L84.89,281.23 L84.72,276.08 L84.57,270.92 L84.43,265.77 L84.29,260.62 L84.17,255.47 L84.05,250.31 L83.95,245.16 L83.85,240.01 L83.75,234.86 L83.67,229.70 L83.59,224.55 L83.51,219.40 L83.44,214.25 L83.37,209.10 L83.31,203.94 L83.26,198.79 L83.20,193.64 L83.15,188.49 L83.11,183.33 L83.06,178.18 L83.02,173.03 L82.99,167.88 L82.95,162.72 L82.92,157.57 L82.89,152.42 L82.86,147.27 L82.83,142.11 L82.81,136.96 L82.78,131.81 L82.76,126.66 L82.74,121.50 L82.72,116.35 L82.70,111.20 L82.69,106.05 L82.67,100.90 L82.66,95.74 L82.64,90.59 L82.63,85.44 L82.62,80.29 L82.60,75.13 L82.59,69.98 L82.58,64.83 L82.57,59.68 L82.56,54.52 L82.56,49.37 L82.55,44.22 L82.54,39.07 L82.53,33.91 L82.53,28.76 L82.52,23.61 L82.51,18.46 L82.51,13.30 L82.50,8.15 L82.50,3.00 M240.98,3.00 L240.98,8.15 L240.98,13.30 L240.99,18.46 L240.99,23.61 L241.00,28.76 L241.00,33.91 L241.01,39.07 L241.02,44.22 L241.03,49.37 L241.04,54.52 L241.05,59.68 L241.06,64.83 L241.08,69.98 L241.10,75.13 L241.12,80.29 L241.14,85.44 L241.16,90.59 L241.19,95.74 L241.22,100.90 L241.26,106.05 L241.29,111.20 L241.34,116.35 L241.38,121.50 L241.44,126.66 L241.49,131.81 L241.56,136.96 L241.63,142.11 L241.71,147.27 L241.80,152.42 L241.90,157.57 L241.99,162.06 L242.00,162.72 L242.13,167.88 L242.26,173.03 L242.41,178.18 L242.57,183.33 L242.76,188.49 L242.96,193.64 L243.19,198.79 L243.44,203.94 L243.72,209.10 L244.03,214.25 L244.37,219.40 L244.75,224.55 L245.18,229.70 L245.66,234.86 L246.19,240.01 L246.78,245.16 L247.15,248.07 L247.45,250.31 L248.21,255.47 L249.06,260.62 L250.01,265.77 L251.09,270.92 L252.30,276.08 L252.31,276.12 L253.71,281.23 L255.32,286.38 L257.14,291.53 L257.48,292.39 L259.28,296.69 L261.75,301.84 L262.64,303.49 L264.67,306.99 L267.80,311.72 L268.11,312.14 L272.27,317.30 L272.96,318.06 L277.36,322.45 L278.12,323.14 L283.29,327.29 L283.71,327.60 L288.45,330.72 L291.96,332.75 L293.61,333.64 L298.77,336.10 L303.08,337.90 L303.93,338.24 L309.10,340.06 L314.26,341.66 L319.37,343.06 L319.42,343.07 L324.58,344.28 L329.74,345.36 L334.90,346.31 L340.07,347.16 L345.23,347.91 L347.48,348.21 L350.39,348.58 L355.55,349.17 L360.71,349.70 L365.88,350.18 L371.04,350.60 L376.20,350.99 L381.36,351.33 L386.52,351.64 L391.69,351.92 L396.85,352.17 L402.01,352.39 L407.17,352.60 L412.33,352.78 L417.50,352.94 L422.66,353.09 L427.82,353.23 L432.98,353.35 L433.64,353.36 L438.14,353.46 L443.30,353.55 L448.47,353.64 L453.63,353.72 L458.79,353.79 L463.95,353.86 L469.11,353.92 L474.28,353.97 L479.44,354.02 L484.60,354.06 L489.76,354.10 L494.92,354.13 L500.09,354.16 L505.25,354.19 L510.41,354.21 L515.57,354.23 L520.73,354.25 L525.90,354.27 L531.06,354.29 L536.22,354.30 L541.38,354.31 L546.54,354.32 L551.70,354.33 L556.87,354.34 L562.03,354.35 L567.19,354.35 L572.35,354.36 L577.51,354.36 L582.68,354.37 L587.84,354.37 L593.00,354.37"/>
<path stroke="#20ffdf" d="M593.00,515.61 L587.84,515.60 L582.68,515.60 L577.51,515.59 L572.35,515.59 L567.19,515.58 L562.03,515.58 L556.87,515.57 L551.70,515.57 L546.54,515.56 L541.38,515.55 L536.22,515.54 L531.06,515.53 L525.90,515.53 L520.73,515.52 L515.57,515.51 L510.41,515.49 L505.25,515.48 L500.09,515.47 L494.92,515.46 L489.76,515.44 L484.60,515.43 L479.44,515.41 L474.28,515.40 L469.11,515.38 L463.95,515.36 L458.79,515.34 L453.63,515.32 L448.47,515.29 L443.30,515.27 L438.14,515.24 L432.98,515.21 L427.82,515.18 L422.66,515.15 L417.50,515.11 L412.33,515.07 L407.17,515.03 L402.01,514.99 L396.85,514.94 L391.69,514.89 L386.52,514.84 L381.36,514.78 L376.20,514.72 L371.04,514.65 L365.88,514.58 L360.71,514.50 L355.55,514.42 L350.39,514.33 L345.23,514.24 L340.07,514.14 L334.90,514.03 L329.74,513.91 L324.58,513.78 L319.42,513.65 L314.26,513.50 L309.10,513.35 L303.93,513.18 L301.32,513.09 L298.77,512.98 L293.61,512.76 L288.45,512.51 L283.29,512.25 L278.12,511.98 L272.96,511.68 L267.80,511.35 L262.64,511.01 L257.48,510.64 L252.31,510.24 L247.15,509.82 L241.99,509.36 L236.83,508.87 L231.67,508.35 L227.88,507.93 L226.50,507.76 L221.34,507.07 L216.18,506.32 L211.02,505.53 L205.86,504.68 L200.70,503.78 L195.53,502.81 L195.39,502.78 L190.37,501.63 L185.21,500.36 L180.05,499.02 L174.99,497.63 L174.89,497.59 L169.72,495.86 L164.56,494.02 L160.49,492.48 L159.40,492.01 L154.24,489.66 L149.39,487.32 L149.08,487.16 L143.91,484.18 L140.64,482.17 L138.75,480.90 L133.59,477.17 L133.40,477.02 L128.43,472.78 L127.44,471.87 L123.27,467.70 L122.35,466.71 L118.10,461.75 L117.95,461.56 L114.22,456.41 L112.94,454.53 L110.93,451.26 L107.95,446.10 L107.78,445.79 L105.44,440.95 L103.08,435.80 L102.62,434.71 L101.08,430.65 L99.23,425.50 L97.49,420.34 L97.46,420.23 L96.06,415.19 L94.72,410.04 L93.45,404.89 L92.30,399.88 L92.27,399.73 L91.30,394.58 L90.39,389.43 L89.54,384.28 L88.75,379.12 L88.00,373.97 L87.31,368.82 L87.13,367.45 L86.72,363.67 L86.19,358.51 L85.70,353.36 L85.25,348.21 L84.82,343.06 L84.42,337.90 L84.05,332.75 L83.71,327.60 L83.38,322.45 L83.08,317.30 L82.80,312.14 L82.54,306.99 L82.30,301.84 L82.08,296.69 L81.97,294.15 L81.88,291.53 L81.71,286.38 L81.55,281.23 L81.41,276.08 L81.27,270.92 L81.15,265.77 L81.03,260.62 L80.92,255.47 L80.82,250.31 L80.72,245.16 L80.63,240.01 L80.55,234.86 L80.47,229.70 L80.40,224.55 L80.34,219.40 L80.27,214.25 L80.22,209.10 L80.16,203.94 L80.11,198.79 L80.06,193.64 L80.02,188.49 L79.98,183.33 L79.94,178.18 L79.91,173.03 L79.87,167.88 L79.84,162.72 L79.81,157.57 L79.79,152.42 L79.76,147.27 L79.74,142.11 L79.72,136.96 L79.69,131.81 L79.68,126.66 L79.66,121.50 L79.64,116.35 L79.62,111.20 L79.61,106.05 L79.60,100.90 L79.58,95.74 L79.57,90.59 L79.56,85.44 L79.55,80.29 L79.54,75.13 L79.53,69.98 L79.52,64.83 L79.51,59.68 L79.50,54.52 L79.49,49.37 L79.49,44.22 L79.48,39.07 L79.47,33.91 L79.47,28.76 L79.46,23.61 L79.46,18.46 L79.45,13.30 L79.45,8.15 L79.44,3.00 M252.21,3.00 L252.21,8.15 L252.22,13.30 L252.22,18.46 L252.23,23.61 L252.24,28.76 L252.25,33.91 L252.26,39.07 L252.27,44.22 L252.29,49.37 L252.30,54.52 L252.31,58.54 L252.32,59.68 L252.34,64.83 L252.36,69.98 L252.38,75.13 L252.41,80.29 L252.44,85.44 L252.48,90.59 L252.51,95.74 L252.56,100.90 L252.60,106.05 L252.65,111.20 L252.71,116.35 L252.77,121.50 L252.84,126.66 L252.92,131.81 L253.01,136.96 L253.10,142.11 L253.21,147.27 L253.33,152.42 L253.45,157.57 L253.60,162.72 L253.76,167.88 L253.93,173.03 L254.12,178.18 L254.34,183.33 L254.58,188.49 L254.84,193.64 L255.13,198.79 L255.46,203.94 L255.82,209.10 L256.22,214.25 L256.66,219.40 L257.16,224.55 L257.48,227.56 L257.71,229.70 L258.34,234.86 L259.04,240.01 L259.83,245.16 L260.71,250.31 L261.70,255.47 L262.64,259.81 L262.82,260.62 L264.11,265.77 L265.57,270.92 L267.23,276.08 L267.80,277.68 L269.15,281.23 L271.37,286.38 L272.96,289.64 L273.96,291.53 L277.00,296.69 L278.12,298.38 L280.63,301.84 L283.29,305.09 L284.99,306.99 L288.45,310.44 L290.35,312.14 L293.61,314.79 L297.08,317.30 L298.77,318.42 L303.93,321.45 L305.83,322.45 L309.10,324.03 L314.26,326.25 L317.82,327.60 L319.42,328.17 L324.58,329.82 L329.74,331.28 L334.90,332.57 L335.71,332.75 L340.07,333.69 L345.23,334.67 L350.39,335.56 L355.55,336.34 L360.71,337.04 L365.88,337.67 L368.03,337.90 L371.04,338.22 L376.20,338.72 L381.36,339.16 L386.52,339.56 L391.69,339.92 L396.85,340.25 L402.01,340.54 L407.17,340.80 L412.33,341.04 L417.50,341.25 L422.66,341.44 L427.82,341.62 L432.98,341.78 L438.14,341.92 L443.30,342.05 L448.47,342.16 L453.63,342.27 L458.79,342.36 L463.95,342.45 L469.11,342.53 L474.28,342.60 L479.44,342.66 L484.60,342.72 L489.76,342.77 L494.92,342.82 L500.09,342.86 L505.25,342.90 L510.41,342.93 L515.57,342.96 L520.73,342.99 L525.90,343.01 L531.06,343.03 L536.22,343.05 L537.36,343.06 L541.38,343.07 L546.54,343.09 L551.70,343.10 L556.87,343.11 L562.03,343.12 L567.19,343.13 L572.35,343.14 L577.51,343.15 L582.68,343.15 L587.84,343.16 L593.00,343.16"/>
<path stroke="#60ff9f" d="M593.00,518.54 L587.84,518.53 L582.68,518.53 L577.51,518.52 L572.35,518.52 L567.19,518.51 L562.03,518.51 L556.87,518.50 L551.70,518.50 L546.54,518.49 L541.38,518.48 L536.22,518.48 L531.06,518.47 L525.90,518.46 L520.73,518.45 L515.57,518.45 L510.41,518.44 L505.25,518.43 L500.09,518.41 L494.92,518.40 L489.76,518.39 L484.60,518.38 L479.44,518.36 L474.28,518.35 L469.11,518.33 L463.95,518.32 L458.79,518.30 L453.63,518.28 L448.47,518.26 L444.14,518.24 L443.30,518.23 L438.14,518.21 L432.98,518.18 L427.82,518.15 L422.66,518.11 L417.50,518.07 L412.33,518.04 L407.17,517.99 L402.01,517.95 L396.85,517.90 L391.69,517.85 L386.52,517.80 L381.36,517.74 L376.20,517.67 L371.04,517.60 L365.88,517.53 L360.71,517.45 L355.55,517.37 L350.39,517.28 L345.23,517.18 L340.07,517.08 L334.90,516.96 L329.74,516.84 L324.58,516.71 L319.42,516.58 L314.26,516.43 L309.10,516.26 L303.93,516.09 L298.77,515.91 L293.61,515.71 L288.45,515.49 L283.29,515.26 L278.12,515.01 L272.96,514.75 L267.80,514.46 L262.64,514.15 L257.48,513.82 L252.31,513.47 L247.15,513.09 L247.11,513.09 L241.99,512.62 L236.83,512.11 L231.67,511.57 L226.50,510.99 L221.34,510.37 L216.18,509.71 L211.02,509.00 L205.86,508.24 L203.95,507.93 L200.70,507.34 L195.53,506.34 L190.37,505.28 L185.21,504.14 L180.05,502.93 L179.46,502.78 L174.89,501.47 L169.72,499.90 L164.56,498.23 L162.83,497.63 L159.40,496.29 L154.24,494.15 L150.45,492.48 L149.08,491.80 L143.91,489.07 L140.81,487.32 L138.75,486.04 L133.59,482.61 L132.98,482.17 L128.43,478.58 L126.58,477.02 L123.27,473.96 L121.17,471.87 L118.10,468.56 L116.54,466.71 L112.94,462.17 L112.51,461.56 L109.07,456.41 L107.78,454.35 L106.03,451.26 L103.30,446.10 L102.62,444.73 L100.94,440.95 L98.80,435.80 L97.46,432.38 L96.85,430.65 L95.18,425.50 L93.61,420.34 L92.30,415.78 L92.15,415.19 L90.93,410.04 L89.79,404.89 L88.73,399.73 L87.72,394.58 L87.13,391.33 L86.83,389.43 L86.07,384.28 L85.36,379.12 L84.69,373.97 L84.07,368.82 L83.49,363.67 L82.95,358.51 L82.44,353.36 L81.97,348.26 L81.97,348.21 L81.59,343.06 L81.23,337.90 L80.90,332.75 L80.59,327.60 L80.31,322.45 L80.04,317.30 L79.79,312.14 L79.56,306.99 L79.35,301.84 L79.15,296.69 L78.96,291.53 L78.79,286.38 L78.63,281.23 L78.48,276.08 L78.34,270.92 L78.21,265.77 L78.09,260.62 L77.97,255.47 L77.87,250.31 L77.77,245.16 L77.68,240.01 L77.60,234.86 L77.52,229.70 L77.44,224.55 L77.38,219.40 L77.31,214.25 L77.25,209.10 L77.20,203.94 L77.15,198.79 L77.10,193.64 L77.05,188.49 L77.01,183.33 L76.97,178.18 L76.94,173.03 L76.90,167.88 L76.87,162.72 L76.84,157.57 L76.81,152.42 L76.81,151.59 L76.79,147.27 L76.77,142.11 L76.75,136.96 L76.73,131.81 L76.71,126.66 L76.70,121.50 L76.68,116.35 L76.67,111.20 L76.66,106.05 L76.64,100.90 L76.63,95.74 L76.62,90.59 L76.61,85.44 L76.60,80.29 L76.59,75.13 L76.58,69.98 L76.58,64.83 L76.57,59.68 L76.56,54.52 L76.56,49.37 L76.55,44.22 L76.54,39.07 L76.54,33.91 L76.53,28.76 L76.53,23.61 L76.52,18.46 L76.52,13.30 L76.51,8.15 L76.51,3.00 M263.73,3.00 L263.74,8.15 L263.75,13.30 L263.76,18.46 L263.77,23.61 L263.78,28.76 L263.80,33.91 L263.81,39.07 L263.83,44.22 L263.85,49.37 L263.87,54.52 L263.89,59.68 L263.92,64.83 L263.95,69.98 L263.98,75.13 L264.02,80.29 L264.06,85.44 L264.11,90.59 L264.16,95.74 L264.21,100.90 L264.27,106.05 L264.34,111.20 L264.42,116.35 L264.50,121.50 L264.59,126.66 L264.69,131.81 L264.80,136.96 L264.93,142.11 L265.06,147.27 L265.21,152.42 L265.38,157.57 L265.56,162.72 L265.77,167.88 L265.99,173.03 L266.24,178.18 L266.51,183.33 L266.82,188.49 L267.16,193.64 L267.53,198.79 L267.80,202.10 L267.95,203.94 L268.43,209.10 L268.95,214.25 L269.54,219.40 L270.19,224.55 L270.92,229.70 L271.74,234.86 L272.65,240.01 L272.96,241.58 L273.70,245.16 L274.88,250.31 L276.22,255.47 L277.73,260.62 L278.12,261.83 L279.49,265.77 L281.50,270.92 L283.29,274.96 L283.81,276.08 L286.55,281.23 L288.45,284.39 L289.74,286.38 L293.54,291.53 L293.61,291.62 L298.17,296.69 L298.77,297.29 L303.84,301.84 L303.93,301.91 L309.10,305.70 L311.09,306.99 L314.26,308.89 L319.42,311.62 L320.53,312.14 L324.58,313.92 L329.74,315.93 L333.70,317.30 L334.90,317.69 L340.07,319.19 L345.23,320.53 L350.39,321.71 L353.97,322.45 L355.55,322.76 L360.71,323.67 L365.88,324.48 L371.04,325.21 L376.20,325.86 L381.36,326.45 L386.52,326.98 L391.69,327.45 L393.53,327.60 L396.85,327.87 L402.01,328.24 L407.17,328.58 L412.33,328.88 L417.50,329.16 L422.66,329.41 L427.82,329.63 L432.98,329.83 L438.14,330.02 L443.30,330.18 L448.47,330.33 L453.63,330.47 L458.79,330.59 L463.95,330.70 L469.11,330.80 L474.28,330.90 L479.44,330.98 L484.60,331.05 L489.76,331.12 L494.92,331.18 L500.09,331.24 L505.25,331.29 L510.41,331.33 L515.57,331.37 L520.73,331.41 L525.90,331.44 L531.06,331.47 L536.22,331.50 L541.38,331.52 L546.54,331.54 L551.70,331.56 L556.87,331.58 L562.03,331.60 L567.19,331.61 L572.35,331.62 L577.51,331.63 L582.68,331.64 L587.84,331.65 L593.00,331.66"/>
<path stroke="#8fff70" d="M593.00,521.11 L587.84,521.11 L582.68,521.10 L577.51,521.10 L572.35,521.09 L567.19,521.09 L562.03,521.08 L556.87,521.08 L551.70,521.07 L546.54,521.06 L541.38,521.06 L536.22,521.05 L531.06,521.04 L525.90,521.03 L520.73,521.03 L515.57,521.02 L510.41,521.01 L505.25,521.00 L500.09,520.99 L494.92,520.97 L489.76,520.96 L484.60,520.95 L479.44,520.93 L474.28,520.92 L469.11,520.90 L463.95,520.88 L458.79,520.87 L453.63,520.85 L448.47,520.83 L443.30,520.80 L438.14,520.78 L432.98,520.75 L427.82,520.72 L422.66,520.69 L417.50,520.66 L412.33,520.63 L407.17,520.59 L402.01,520.55 L396.85,520.51 L391.69,520.46 L386.52,520.42 L381.36,520.36 L376.20,520.31 L371.04,520.25 L365.88,520.18 L360.71,520.11 L355.55,520.04 L350.39,519.96 L345.23,519.87 L340.07,519.78 L334.90,519.68 L329.74,519.57 L324.58,519.46 L319.42,519.33 L314.26,519.20 L309.10,519.06 L303.93,518.90 L298.77,518.74 L293.61,518.56 L288.45,518.37 L285.13,518.24 L283.29,518.15 L278.12,517.90 L272.96,517.63 L267.80,517.33 L262.64,517.02 L257.48,516.68 L252.31,516.31 L247.15,515.92 L241.99,515.51 L236.83,515.06 L231.67,514.57 L226.50,514.05 L221.34,513.50 L217.77,513.09 L216.18,512.88 L211.02,512.14 L205.86,511.36 L200.70,510.52 L195.53,509.62 L190.37,508.67 L186.69,507.93 L185.21,507.60 L180.05,506.35 L174.89,505.02 L169.72,503.60 L166.95,502.78 L164.56,501.99 L159.40,500.15 L154.24,498.21 L152.81,497.63 L149.08,495.94 L143.91,493.45 L142.03,492.48 L138.75,490.60 L133.59,487.45 L133.40,487.32 L128.43,483.71 L126.45,482.17 L123.27,479.46 L120.61,477.02 L118.10,474.52 L115.66,471.87 L112.94,468.69 L111.40,466.71 L107.78,461.75 L107.66,461.56 L104.50,456.41 L102.62,453.14 L101.64,451.26 L99.15,446.10 L97.46,442.38 L96.88,440.95 L94.93,435.80 L93.09,430.65 L92.30,428.26 L91.48,425.50 L90.06,420.34 L88.72,415.19 L87.47,410.04 L87.13,408.56 L86.40,404.89 L85.44,399.73 L84.54,394.58 L83.70,389.43 L82.92,384.28 L82.18,379.12 L81.97,377.54 L81.56,373.97 L81.00,368.82 L80.48,363.67 L80.00,358.51 L79.55,353.36 L79.13,348.21 L78.74,343.06 L78.37,337.90 L78.03,332.75 L77.72,327.60 L77.42,322.45 L77.15,317.30 L76.89,312.14 L76.81,310.30 L76.68,306.99 L76.49,301.84 L76.31,296.69 L76.14,291.53 L75.99,286.38 L75.84,281.23 L75.71,276.08 L75.59,270.92 L75.47,265.77 L75.37,260.62 L75.27,255.47 L75.17,250.31 L75.09,245.16 L75.01,240.01 L74.93,234.86 L74.86,229.70 L74.80,224.55 L74.74,219.40 L74.68,214.25 L74.63,209.10 L74.58,203.94 L74.53,198.79 L74.49,193.64 L74.45,188.49 L74.42,183.33 L74.38,178.18 L74.35,173.03 L74.32,167.88 L74.29,162.72 L74.26,157.57 L74.24,152.42 L74.22,147.27 L74.20,142.11 L74.18,136.96 L74.16,131.81 L74.14,126.66 L74.12,121.50 L74.11,116.35 L74.09,111.20 L74.08,106.05 L74.07,100.90 L74.06,95.74 L74.05,90.59 L74.04,85.44 L74.03,80.29 L74.02,75.13 L74.01,69.98 L74.00,64.83 L73.99,59.68 L73.99,54.52 L73.98,49.37 L73.97,44.22 L73.97,39.07 L73.96,33.91 L73.96,28.76 L73.95,23.61 L73.95,18.46 L73.94,13.30 L73.94,8.15 L73.93,3.00 M275.67,3.00 L275.68,8.15 L275.70,13.30 L275.71,18.46 L275.72,23.61 L275.74,28.76 L275.76,33.91 L275.78,39.07 L275.81,44.22 L275.83,49.37 L275.86,54.52 L275.89,59.68 L275.93,64.83 L275.97,69.98 L276.01,75.13 L276.06,80.29 L276.11,85.44 L276.17,90.59 L276.24,95.74 L276.31,100.90 L276.39,106.05 L276.48,111.20 L276.57,116.35 L276.68,121.50 L276.80,126.66 L276.93,131.81 L277.07,136.96 L277.23,142.11 L277.40,147.27 L277.60,152.42 L277.81,157.57 L278.04,162.72 L278.12,164.30 L278.31,167.88 L278.60,173.03 L278.93,178.18 L279.29,183.33 L279.69,188.49 L280.14,193.64 L280.63,198.79 L281.18,203.94 L281.79,209.10 L282.47,214.25 L283.23,219.40 L283.29,219.74 L284.10,224.55 L285.08,229.70 L286.18,234.86 L287.41,240.01 L288.45,243.89 L288.81,245.16 L290.43,250.31 L292.27,255.47 L293.61,258.81 L294.39,260.62 L296.86,265.77 L298.77,269.28 L299.74,270.92 L303.15,276.08 L303.93,277.14 L307.24,281.23 L309.10,283.28 L312.20,286.38 L314.26,288.23 L318.35,291.53 L319.42,292.32 L324.58,295.72 L326.23,296.69 L329.74,298.59 L334.90,301.06 L336.72,301.84 L340.07,303.17 L345.23,305.01 L350.39,306.63 L351.67,306.99 L355.55,308.03 L360.71,309.26 L365.88,310.35 L371.04,311.33 L375.85,312.14 L376.20,312.20 L381.36,312.96 L386.52,313.64 L391.69,314.25 L396.85,314.79 L402.01,315.29 L407.17,315.73 L412.33,316.13 L417.50,316.49 L422.66,316.82 L427.82,317.11 L431.40,317.30 L432.98,317.37 L438.14,317.61 L443.30,317.82 L448.47,318.01 L453.63,318.19 L458.79,318.35 L463.95,318.49 L469.11,318.62 L474.28,318.74 L479.44,318.84 L484.60,318.94 L489.76,319.03 L494.92,319.11 L500.09,319.18 L505.25,319.24 L510.41,319.30 L515.57,319.36 L520.73,319.40 L525.90,319.45 L531.06,319.49 L536.22,319.52 L541.38,319.55 L546.54,319.58 L551.70,319.61 L556.87,319.63 L562.03,319.65 L567.19,319.67 L572.35,319.69 L577.51,319.71 L582.68,319.72 L587.84,319.73 L593.00,319.74"/>
<path stroke="#cfff30" d="M593.00,523.64 L587.84,523.64 L582.68,523.64 L577.51,523.63 L572.35,523.63 L567.19,523.62 L562.03,523.62 L556.87,523.62 L551.70,523.61 L546.54,523.60 L541.38,523.60 L536.22,523.59 L531.06,523.59 L525.90,523.58 L520.73,523.57 L515.57,523.56 L510.41,523.55 L505.25,523.55 L500.09,523.54 L494.92,523.52 L489.76,523.51 L484.60,523.50 L479.44,523.49 L474.28,523.48 L469.11,523.46 L463.95,523.45 L458.79,523.43 L453.63,523.41 L448.47,523.39 L447.81,523.39 L443.30,523.37 L438.14,523.35 L432.98,523.32 L427.82,523.29 L422.66,523.26 L417.50,523.23 L412.33,523.19 L407.17,523.15 L402.01,523.11 L396.85,523.07 L391.69,523.03 L386.52,522.98 L381.36,522.92 L376.20,522.87 L371.04,522.80 L365.88,522.74 L360.71,522.67 L355.55,522.59 L350.39,522.51 L345.23,522.42 L340.07,522.33 L334.90,522.22 L329.74,522.12 L324.58,522.00 L319.42,521.87 L314.26,521.74 L309.10,521.59 L303.93,521.43 L298.77,521.26 L293.61,521.08 L288.45,520.89 L283.29,520.68 L278.12,520.45 L272.96,520.21 L267.80,519.95 L262.64,519.67 L257.48,519.36 L252.31,519.04 L247.15,518.69 L241.99,518.32 L240.97,518.24 L236.83,517.87 L231.67,517.37 L226.50,516.84 L221.34,516.27 L216.18,515.66 L211.02,515.01 L205.86,514.30 L200.70,513.55 L197.71,513.09 L195.53,512.70 L190.37,511.71 L185.21,510.66 L180.05,509.54 L174.89,508.34 L173.27,507.93 L169.72,506.93 L164.56,505.38 L159.40,503.72 L156.68,502.78 L154.24,501.84 L149.08,499.71 L144.33,497.63 L143.91,497.43 L138.75,494.71 L134.77,492.48 L133.59,491.75 L128.43,488.31 L127.05,487.32 L123.27,484.36 L120.68,482.17 L118.10,479.79 L115.32,477.02 L112.94,474.44 L110.76,471.87 L107.78,468.09 L106.79,466.71 L103.35,461.56 L102.62,460.39 L100.38,456.41 L97.66,451.26 L97.46,450.84 L95.37,446.10 L93.24,440.95 L92.30,438.52 L91.36,435.80 L89.70,430.65 L88.14,425.50 L87.13,421.95 L86.73,420.34 L85.53,415.19 L84.40,410.04 L83.35,404.89 L82.36,399.73 L81.97,397.56 L81.50,394.58 L80.75,389.43 L80.05,384.28 L79.39,379.12 L78.78,373.97 L78.21,368.82 L77.68,363.67 L77.18,358.51 L76.81,354.38 L76.73,353.36 L76.35,348.21 L76.01,343.06 L75.68,337.90 L75.38,332.75 L75.10,327.60 L74.84,322.45 L74.59,317.30 L74.37,312.14 L74.16,306.99 L73.96,301.84 L73.78,296.69 L73.61,291.53 L73.45,286.38 L73.31,281.23 L73.17,276.08 L73.04,270.92 L72.93,265.77 L72.82,260.62 L72.71,255.47 L72.62,250.31 L72.53,245.16 L72.45,240.01 L72.37,234.86 L72.30,229.70 L72.24,224.55 L72.17,219.40 L72.12,214.25 L72.06,209.10 L72.01,203.94 L71.97,198.79 L71.92,193.64 L71.88,188.49 L71.85,183.33 L71.81,178.18 L71.78,173.03 L71.75,167.88 L71.72,162.72 L71.69,157.57 L71.67,152.42 L71.65,147.92 L71.65,147.27 L71.63,142.11 L71.61,136.96 L71.59,131.81 L71.58,126.66 L71.56,121.50 L71.55,116.35 L71.54,111.20 L71.52,106.05 L71.51,100.90 L71.50,95.74 L71.49,90.59 L71.48,85.44 L71.47,80.29 L71.47,75.13 L71.46,69.98 L71.45,64.83 L71.45,59.68 L71.44,54.52 L71.43,49.37 L71.43,44.22 L71.42,39.07 L71.42,33.91 L71.41,28.76 L71.41,23.61 L71.40,18.46 L71.40,13.30 L71.40,8.15 L71.39,3.00 M288.14,3.00 L288.16,8.15 L288.17,13.30 L288.19,18.46 L288.21,23.61 L288.24,28.76 L288.26,33.91 L288.29,39.07 L288.32,44.22 L288.36,49.37 L288.39,54.52 L288.44,59.68 L288.45,60.83 L288.48,64.83 L288.54,69.98 L288.60,75.13 L288.66,80.29 L288.73,85.44 L288.81,90.59 L288.89,95.74 L288.99,100.90 L289.09,106.05 L289.21,111.20 L289.34,116.35 L289.48,121.50 L289.63,126.66 L289.80,131.81 L289.99,136.96 L290.20,142.11 L290.43,147.27 L290.68,152.42 L290.96,157.57 L291.27,162.72 L291.61,167.88 L291.99,173.03 L292.41,178.18 L292.88,183.33 L293.39,188.49 L293.61,190.43 L293.98,193.64 L294.64,198.79 L295.37,203.94 L296.19,209.10 L297.10,214.25 L298.12,219.40 L298.77,222.34 L299.28,224.55 L300.62,229.70 L302.12,234.86 L303.81,240.01 L303.93,240.34 L305.81,245.16 L308.07,250.31 L309.10,252.39 L310.73,255.47 L313.83,260.62 L314.26,261.26 L317.54,265.77 L319.42,268.07 L321.99,270.92 L324.58,273.51 L327.44,276.08 L329.74,277.95 L334.26,281.23 L334.90,281.66 L340.07,284.75 L343.15,286.38 L345.23,287.40 L350.39,289.66 L355.22,291.53 L355.55,291.65 L360.71,293.34 L365.88,294.84 L371.04,296.17 L373.25,296.69 L376.20,297.33 L381.36,298.35 L386.52,299.27 L391.69,300.08 L396.85,300.81 L402.01,301.47 L405.22,301.84 L407.17,302.05 L412.33,302.57 L417.50,303.03 L422.66,303.45 L427.82,303.83 L432.98,304.17 L438.14,304.48 L443.30,304.76 L448.47,305.01 L453.63,305.24 L458.79,305.45 L463.95,305.64 L469.11,305.81 L474.28,305.96 L479.44,306.10 L484.60,306.23 L489.76,306.35 L494.92,306.45 L500.09,306.54 L505.25,306.63 L510.41,306.71 L515.57,306.78 L520.73,306.84 L525.90,306.90 L531.06,306.95 L535.06,306.99 L536.22,307.00 L541.38,307.04 L546.54,307.08 L551.70,307.12 L556.87,307.15 L562.03,307.18 L567.19,307.20 L572.35,307.22 L577.51,307.24 L582.68,307.26 L587.84,307.28 L593.00,307.29"/>
<path stroke="#ffef00" d="M593.00,525.88 L587.84,525.88 L582.68,525.88 L577.51,525.87 L572.35,525.87 L567.19,525.86 L562.03,525.86 L556.87,525.86 L551.70,525.85 L546.54,525.84 L541.38,525.84 L536.22,525.83 L531.06,525.82 L525.90,525.82 L520.73,525.81 L515.57,525.80 L510.41,525.79 L505.25,525.78 L500.09,525.77 L494.92,525.76 L489.76,525.75 L484.60,525.74 L479.44,525.73 L474.28,525.71 L469.11,525.70 L463.95,525.68 L458.79,525.67 L453.63,525.65 L448.47,525.63 L443.30,525.61 L438.14,525.59 L432.98,525.56 L427.82,525.54 L422.66,525.51 L417.50,525.48 L412.33,525.45 L407.17,525.42 L402.01,525.38 L396.85,525.34 L391.69,525.30 L386.52,525.26 L381.36,525.21 L376.20,525.16 L371.04,525.11 L365.88,525.05 L360.71,524.99 L355.55,524.92 L350.39,524.85 L345.23,524.77 L340.07,524.68 L334.90,524.59 L329.74,524.50 L324.58,524.39 L319.42,524.28 L314.26,524.16 L309.10,524.03 L303.93,523.89 L298.77,523.74 L293.61,523.58 L288.45,523.40 L288.13,523.39 L283.29,523.19 L278.12,522.96 L272.96,522.71 L267.80,522.44 L262.64,522.16 L257.48,521.85 L252.31,521.52 L247.15,521.16 L241.99,520.78 L236.83,520.37 L231.67,519.93 L226.50,519.45 L221.34,518.94 L216.18,518.40 L214.80,518.24 L211.02,517.75 L205.86,517.03 L200.70,516.26 L195.53,515.43 L190.37,514.55 L185.21,513.61 L182.57,513.09 L180.05,512.53 L174.89,511.29 L169.72,509.98 L164.56,508.58 L162.36,507.93 L159.40,506.96 L154.24,505.15 L149.08,503.22 L147.98,502.78 L143.91,500.96 L138.75,498.49 L137.08,497.63 L133.59,495.64 L128.43,492.50 L128.39,492.48 L123.27,488.77 L121.40,487.32 L118.10,484.52 L115.55,482.17 L112.94,479.57 L110.59,477.02 L107.78,473.73 L106.33,471.87 L102.62,466.76 L102.59,466.71 L99.45,461.56 L97.46,458.08 L96.60,456.41 L94.12,451.26 L92.30,447.20 L91.85,446.10 L89.92,440.95 L88.11,435.80 L87.13,432.84 L86.49,430.65 L85.08,425.50 L83.77,420.34 L82.53,415.19 L81.97,412.68 L81.45,410.04 L80.50,404.89 L79.62,399.73 L78.79,394.58 L78.02,389.43 L77.30,384.28 L76.81,380.50 L76.65,379.12 L76.10,373.97 L75.59,368.82 L75.12,363.67 L74.68,358.51 L74.26,353.36 L73.88,348.21 L73.52,343.06 L73.19,337.90 L72.88,332.75 L72.60,327.60 L72.33,322.45 L72.08,317.30 L71.85,312.14 L71.65,307.31 L71.64,306.99 L71.46,301.84 L71.30,296.69 L71.15,291.53 L71.01,286.38 L70.88,281.23 L70.76,276.08 L70.64,270.92 L70.54,265.77 L70.44,260.62 L70.35,255.47 L70.27,250.31 L70.19,245.16 L70.12,240.01 L70.05,234.86 L69.99,229.70 L69.93,224.55 L69.87,219.40 L69.82,214.25 L69.77,209.10 L69.73,203.94 L69.69,198.79 L69.65,193.64 L69.62,188.49 L69.58,183.33 L69.55,178.18 L69.52,173.03 L69.50,167.88 L69.47,162.72 L69.45,157.57 L69.42,152.42 L69.40,147.27 L69.39,142.11 L69.37,136.96 L69.35,131.81 L69.33,126.66 L69.32,121.50 L69.31,116.35 L69.29,111.20 L69.28,106.05 L69.27,100.90 L69.26,95.74 L69.25,90.59 L69.24,85.44 L69.23,80.29 L69.22,75.13 L69.22,69.98 L69.21,64.83 L69.20,59.68 L69.20,54.52 L69.19,49.37 L69.18,44.22 L69.18,39.07 L69.17,33.91 L69.17,28.76 L69.16,23.61 L69.16,18.46 L69.16,13.30 L69.15,8.15 L69.15,3.00 M301.33,3.00 L301.35,8.15 L301.37,13.30 L301.40,18.46 L301.43,23.61 L301.46,28.76 L301.49,33.91 L301.53,39.07 L301.57,44.22 L301.62,49.37 L301.67,54.52 L301.73,59.68 L301.79,64.83 L301.86,69.98 L301.93,75.13 L302.02,80.29 L302.11,85.44 L302.21,90.59 L302.32,95.74 L302.44,100.90 L302.58,106.05 L302.73,111.20 L302.89,116.35 L303.07,121.50 L303.27,126.66 L303.49,131.81 L303.73,136.96 L303.93,140.84 L304.00,142.11 L304.31,147.27 L304.64,152.42 L305.01,157.57 L305.42,162.72 L305.88,167.88 L306.38,173.03 L306.95,178.18 L307.57,183.33 L308.26,188.49 L309.03,193.64 L309.10,194.02 L309.92,198.79 L310.92,203.94 L312.03,209.10 L313.28,214.25 L314.26,217.86 L314.70,219.40 L316.34,224.55 L318.20,229.70 L319.42,232.73 L320.34,234.86 L322.84,240.01 L324.58,243.20 L325.74,245.16 L329.17,250.31 L329.74,251.09 L333.29,255.47 L334.90,257.25 L338.28,260.62 L340.07,262.23 L344.45,265.77 L345.23,266.34 L350.39,269.76 L352.36,270.92 L355.55,272.66 L360.71,275.16 L362.85,276.08 L365.88,277.29 L371.04,279.15 L376.20,280.79 L377.74,281.23 L381.36,282.21 L386.52,283.45 L391.69,284.56 L396.85,285.56 L401.63,286.38 L402.01,286.44 L407.17,287.21 L412.33,287.90 L417.50,288.53 L422.66,289.09 L427.82,289.59 L432.98,290.05 L438.14,290.46 L443.30,290.83 L448.47,291.16 L453.63,291.47 L454.91,291.53 L458.79,291.73 L463.95,291.98 L469.11,292.19 L474.28,292.39 L479.44,292.57 L484.60,292.74 L489.76,292.89 L494.92,293.02 L500.09,293.14 L505.25,293.25 L510.41,293.35 L515.57,293.45 L520.73,293.53 L525.90,293.60 L531.06,293.67 L536.22,293.74 L541.38,293.79 L546.54,293.84 L551.70,293.89 L556.87,293.93 L562.03,293.97 L567.19,294.00 L572.35,294.03 L577.51,294.06 L582.68,294.09 L587.84,294.11 L593.00,294.13"/>
<path stroke="#ffbf00" d="M593.00,528.12 L587.84,528.12 L582.68,528.12 L577.51,528.11 L572.35,528.11 L567.19,528.10 L562.03,528.10 L556.87,528.09 L551.70,528.09 L546.54,528.08 L541.38,528.08 L536.22,528.07 L531.06,528.06 L525.90,528.06 L520.73,528.05 L515.57,528.04 L510.41,528.03 L505.25,528.02 L500.09,528.01 L494.92,528.00 L489.76,527.99 L484.60,527.98 L479.44,527.97 L474.28,527.95 L469.11,527.94 L463.95,527.92 L458.79,527.90 L453.63,527.89 L448.47,527.87 L443.30,527.85 L438.14,527.82 L432.98,527.80 L427.82,527.77 L422.66,527.75 L417.50,527.72 L412.33,527.69 L407.17,527.65 L402.01,527.62 L396.85,527.58 L391.69,527.54 L386.52,527.49 L381.36,527.44 L376.20,527.39 L371.04,527.34 L365.88,527.28 L360.71,527.21 L355.55,527.14 L350.39,527.07 L345.23,526.99 L340.07,526.90 L334.90,526.81 L329.74,526.71 L324.58,526.61 L319.42,526.49 L314.26,526.37 L309.10,526.24 L303.93,526.10 L298.77,525.94 L293.61,525.78 L288.45,525.60 L283.29,525.41 L278.12,525.20 L272.96,524.98 L267.80,524.75 L262.64,524.49 L257.48,524.21 L252.31,523.92 L247.15,523.60 L243.98,523.39 L241.99,523.24 L236.83,522.82 L231.67,522.37 L226.50,521.88 L221.34,521.36 L216.18,520.81 L211.02,520.21 L205.86,519.56 L200.70,518.87 L196.26,518.24 L195.53,518.12 L190.37,517.22 L185.21,516.25 L180.05,515.22 L174.89,514.11 L170.42,513.09 L169.72,512.90 L164.56,511.47 L159.40,509.93 L154.24,508.30 L153.17,507.93 L149.08,506.37 L143.91,504.27 L140.51,502.78 L138.75,501.93 L133.59,499.24 L130.70,497.63 L128.43,496.23 L123.27,492.82 L122.78,492.48 L118.10,488.81 L116.34,487.32 L112.94,484.19 L110.92,482.17 L107.78,478.78 L106.29,477.02 L102.62,472.35 L102.27,471.87 L98.86,466.71 L97.46,464.45 L95.84,461.56 L93.15,456.41 L92.30,454.66 L90.81,451.26 L88.70,446.10 L87.13,442.02 L86.77,440.95 L85.13,435.80 L83.59,430.65 L82.15,425.50 L81.97,424.80 L80.95,420.34 L79.84,415.19 L78.80,410.04 L77.83,404.89 L76.93,399.73 L76.81,399.01 L76.17,394.58 L75.48,389.43 L74.84,384.28 L74.24,379.12 L73.68,373.97 L73.16,368.82 L72.67,363.67 L72.22,358.51 L71.80,353.36 L71.65,351.37 L71.44,348.21 L71.12,343.06 L70.82,337.90 L70.55,332.75 L70.29,327.60 L70.05,322.45 L69.83,317.30 L69.63,312.14 L69.43,306.99 L69.26,301.84 L69.09,296.69 L68.94,291.53 L68.80,286.38 L68.66,281.23 L68.54,276.08 L68.43,270.92 L68.32,265.77 L68.22,260.62 L68.13,255.47 L68.04,250.31 L67.96,245.16 L67.89,240.01 L67.82,234.86 L67.76,229.70 L67.70,224.55 L67.64,219.40 L67.59,214.25 L67.54,209.10 L67.50,203.94 L67.45,198.79 L67.41,193.64 L67.38,188.49 L67.34,183.33 L67.31,178.18 L67.28,173.03 L67.26,167.88 L67.23,162.72 L67.21,157.57 L67.18,152.42 L67.16,147.27 L67.14,142.11 L67.13,136.96 L67.11,131.81 L67.09,126.66 L67.08,121.50 L67.06,116.35 L67.05,111.20 L67.04,106.05 L67.03,100.90 L67.02,95.74 L67.01,90.59 L67.00,85.44 L66.99,80.29 L66.98,75.13 L66.97,69.98 L66.97,64.83 L66.96,59.68 L66.95,54.52 L66.95,49.37 L66.94,44.22 L66.93,39.07 L66.93,33.91 L66.92,28.76 L66.92,23.61 L66.92,18.46 L66.91,13.30 L66.91,8.15 L66.90,3.00 M315.37,3.00 L315.40,8.15 L315.43,13.30 L315.47,18.46 L315.51,23.61 L315.55,28.76 L315.60,33.91 L315.65,39.07 L315.70,44.22 L315.77,49.37 L315.83,54.52 L315.91,59.68 L315.99,64.83 L316.08,69.98 L316.19,75.13 L316.30,80.29 L316.42,85.44 L316.55,90.59 L316.70,95.74 L316.86,100.90 L317.04,106.05 L317.24,111.20 L317.46,116.35 L317.70,121.50 L317.97,126.66 L318.26,131.81 L318.58,136.96 L318.94,142.11 L319.34,147.27 L319.42,148.26 L319.78,152.42 L320.28,157.57 L320.84,162.72 L321.45,167.88 L322.14,173.03 L322.90,178.18 L323.75,183.33 L324.58,187.88 L324.70,188.49 L325.80,193.64 L327.03,198.79 L328.41,203.94 L329.74,208.40 L329.97,209.10 L331.79,214.25 L333.86,219.40 L334.90,221.75 L336.26,224.55 L339.05,229.70 L340.07,231.39 L342.35,234.86 L345.23,238.74 L346.26,240.01 L350.39,244.57 L350.98,245.16 L355.55,249.29 L356.82,250.31 L360.71,253.19 L364.19,255.47 L365.88,256.48 L371.04,259.27 L373.85,260.62 L376.20,261.67 L381.36,263.73 L386.52,265.55 L387.22,265.77 L391.69,267.11 L396.85,268.48 L402.01,269.71 L407.17,270.81 L407.78,270.92 L412.33,271.76 L417.50,272.60 L422.66,273.36 L427.82,274.04 L432.98,274.66 L438.14,275.21 L443.30,275.71 L447.47,276.08 L448.47,276.16 L453.63,276.55 L458.79,276.91 L463.95,277.23 L469.11,277.53 L474.28,277.79 L479.44,278.03 L484.60,278.25 L489.76,278.45 L494.92,278.63 L500.09,278.79 L505.25,278.94 L510.41,279.07 L515.57,279.19 L520.73,279.30 L525.90,279.40 L531.06,279.50 L536.22,279.58 L541.38,279.65 L546.54,279.72 L551.70,279.78 L556.87,279.84 L562.03,279.89 L567.19,279.94 L572.35,279.98 L577.51,280.02 L582.68,280.05 L587.84,280.09 L593.00,280.11"/>
<path stroke="#ff8000" d="M593.00,530.14 L587.84,530.13 L582.68,530.13 L577.51,530.13 L572.35,530.12 L567.19,530.12 L562.03,530.12 L556.87,530.11 L551.70,530.11 L546.54,530.10 L541.38,530.10 L536.22,530.09 L531.06,530.08 L525.90,530.08 L520.73,530.07 L515.57,530.06 L510.41,530.06 L505.25,530.05 L500.09,530.04 L494.92,530.03 L489.76,530.02 L484.60,530.01 L479.44,530.00 L474.28,529.98 L469.11,529.97 L463.95,529.96 L458.79,529.94 L453.63,529.93 L448.47,529.91 L443.30,529.89 L438.14,529.87 L432.98,529.85 L427.82,529.83 L422.66,529.80 L417.50,529.78 L412.33,529.75 L407.17,529.72 L402.01,529.69 L396.85,529.65 L391.69,529.61 L386.52,529.57 L381.36,529.53 L376.20,529.49 L371.04,529.44 L365.88,529.38 L360.71,529.33 L355.55,529.27 L350.39,529.20 L345.23,529.13 L340.07,529.05 L334.90,528.97 L329.74,528.88 L324.58,528.79 L319.42,528.69 L314.26,528.58 L312.79,528.54 L309.10,528.45 L303.93,528.30 L298.77,528.15 L293.61,527.98 L288.45,527.80 L283.29,527.60 L278.12,527.39 L272.96,527.17 L267.80,526.93 L262.64,526.67 L257.48,526.39 L252.31,526.09 L247.15,525.76 L241.99,525.41 L236.83,525.04 L231.67,524.64 L226.50,524.20 L221.34,523.74 L217.75,523.39 L216.18,523.22 L211.02,522.61 L205.86,521.95 L200.70,521.25 L195.53,520.49 L190.37,519.68 L185.21,518.82 L182.01,518.24 L180.05,517.84 L174.89,516.71 L169.72,515.50 L164.56,514.21 L160.38,513.09 L159.40,512.79 L154.24,511.12 L149.08,509.33 L145.29,507.93 L143.91,507.37 L138.75,505.07 L133.90,502.78 L133.59,502.62 L128.43,499.70 L125.01,497.63 L123.27,496.47 L118.10,492.77 L117.73,492.48 L112.94,488.42 L111.75,487.32 L107.78,483.36 L106.69,482.17 L102.62,477.40 L102.33,477.02 L98.62,471.87 L97.46,470.13 L95.38,466.71 L92.46,461.56 L92.30,461.25 L90.00,456.41 L87.70,451.26 L87.13,449.88 L85.73,446.10 L83.94,440.95 L82.27,435.80 L81.97,434.82 L80.85,430.65 L79.55,425.50 L78.34,420.34 L77.21,415.19 L76.81,413.23 L76.23,410.04 L75.36,404.89 L74.55,399.73 L73.79,394.58 L73.09,389.43 L72.43,384.28 L71.82,379.12 L71.65,377.56 L71.30,373.97 L70.83,368.82 L70.40,363.67 L70.00,358.51 L69.62,353.36 L69.27,348.21 L68.95,343.06 L68.65,337.90 L68.36,332.75 L68.10,327.60 L67.86,322.45 L67.64,317.30 L67.43,312.14 L67.23,306.99 L67.05,301.84 L66.88,296.69 L66.73,291.53 L66.58,286.38 L66.49,282.69 L66.45,281.23 L66.34,276.08 L66.24,270.92 L66.15,265.77 L66.06,260.62 L65.97,255.47 L65.90,250.31 L65.83,245.16 L65.76,240.01 L65.70,234.86 L65.64,229.70 L65.59,224.55 L65.54,219.40 L65.49,214.25 L65.45,209.10 L65.41,203.94 L65.38,198.79 L65.34,193.64 L65.31,188.49 L65.28,183.33 L65.25,178.18 L65.22,173.03 L65.20,167.88 L65.18,162.72 L65.16,157.57 L65.14,152.42 L65.12,147.27 L65.10,142.11 L65.08,136.96 L65.07,131.81 L65.05,126.66 L65.04,121.50 L65.03,116.35 L65.02,111.20 L65.01,106.05 L65.00,100.90 L64.99,95.74 L64.98,90.59 L64.97,85.44 L64.96,80.29 L64.95,75.13 L64.95,69.98 L64.94,64.83 L64.94,59.68 L64.93,54.52 L64.92,49.37 L64.92,44.22 L64.91,39.07 L64.91,33.91 L64.91,28.76 L64.90,23.61 L64.90,18.46 L64.89,13.30 L64.89,8.15 L64.89,3.00 M330.52,3.00 L330.56,8.15 L330.60,13.30 L330.65,18.46 L330.70,23.61 L330.76,28.76 L330.82,33.91 L330.89,39.07 L330.97,44.22 L331.05,49.37 L331.14,54.52 L331.24,59.68 L331.36,64.83 L331.48,69.98 L331.62,75.13 L331.77,80.29 L331.93,85.44 L332.11,90.59 L332.31,95.74 L332.53,100.90 L332.77,106.05 L333.04,111.20 L333.33,116.35 L333.66,121.50 L334.02,126.66 L334.41,131.81 L334.85,136.96 L334.90,137.53 L335.35,142.11 L335.91,147.27 L336.53,152.42 L337.21,157.57 L337.97,162.72 L338.82,167.88 L339.77,173.03 L340.07,174.50 L340.86,178.18 L342.09,183.33 L343.46,188.49 L345.01,193.64 L345.23,194.29 L346.83,198.79 L348.89,203.94 L350.39,207.29 L351.26,209.10 L354.04,214.25 L355.55,216.74 L357.31,219.40 L360.71,224.00 L361.17,224.55 L365.83,229.70 L365.88,229.75 L371.04,234.41 L371.59,234.86 L376.20,238.26 L378.87,240.01 L381.36,241.51 L386.52,244.29 L388.33,245.16 L391.69,246.66 L396.85,248.72 L401.36,250.31 L402.01,250.53 L407.17,252.07 L412.33,253.45 L417.50,254.68 L421.19,255.47 L422.66,255.76 L427.82,256.71 L432.98,257.56 L438.14,258.32 L443.30,259.00 L448.47,259.62 L453.63,260.17 L458.22,260.62 L458.79,260.67 L463.95,261.11 L469.11,261.51 L474.28,261.86 L479.44,262.19 L484.60,262.48 L489.76,262.75 L494.92,262.99 L500.09,263.21 L505.25,263.41 L510.41,263.59 L515.57,263.75 L520.73,263.90 L525.90,264.04 L531.06,264.16 L536.22,264.27 L541.38,264.37 L546.54,264.47 L551.70,264.55 L556.87,264.63 L562.03,264.70 L567.19,264.76 L572.35,264.82 L577.51,264.87 L582.68,264.92 L587.84,264.96 L593.00,265.00"/>
<path stroke="#ff5000" d="M593.00,532.10 L587.84,532.10 L582.68,532.09 L577.51,532.09 L572.35,532.08 L567.19,532.08 L562.03,532.08 L556.87,532.07 L551.70,532.07 L546.54,532.06 L541.38,532.06 L536.22,532.05 L531.06,532.04 L525.90,532.04 L520.73,532.03 L515.57,532.02 L510.41,532.02 L505.25,532.01 L500.09,532.00 L494.92,531.99 L489.76,531.98 L484.60,531.97 L479.44,531.96 L474.28,531.94 L469.11,531.93 L463.95,531.92 L458.79,531.90 L453.63,531.88 L448.47,531.87 L443.30,531.85 L438.14,531.83 L432.98,531.81 L427.82,531.78 L422.66,531.76 L417.50,531.73 L412.33,531.70 L407.17,531.67 L402.01,531.64 L396.85,531.61 L391.69,531.57 L386.52,531.53 L381.36,531.48 L376.20,531.44 L371.04,531.39 L365.88,531.33 L360.71,531.28 L355.55,531.21 L350.39,531.15 L345.23,531.08 L340.07,531.00 L334.90,530.92 L329.74,530.83 L324.58,530.73 L319.42,530.63 L314.26,530.52 L309.10,530.40 L303.93,530.27 L298.77,530.13 L293.61,529.98 L288.45,529.82 L283.29,529.64 L278.12,529.46 L272.96,529.26 L267.80,529.04 L262.64,528.81 L257.48,528.56 L257.18,528.54 L252.31,528.25 L247.15,527.92 L241.99,527.57 L236.83,527.19 L231.67,526.78 L226.50,526.34 L221.34,525.87 L216.18,525.36 L211.02,524.81 L205.86,524.22 L200.70,523.59 L199.16,523.39 L195.53,522.85 L190.37,522.03 L185.21,521.14 L180.05,520.20 L174.89,519.18 L170.42,518.24 L169.72,518.07 L164.56,516.75 L159.40,515.35 L154.24,513.84 L151.84,513.09 L149.08,512.12 L143.91,510.17 L138.75,508.10 L138.36,507.93 L133.59,505.63 L128.43,502.98 L128.06,502.78 L123.27,499.84 L119.90,497.63 L118.10,496.33 L113.14,492.48 L112.94,492.31 L107.78,487.56 L107.54,487.32 L102.79,482.17 L102.62,481.98 L98.76,477.02 L97.46,475.23 L95.24,471.87 L92.30,467.08 L92.09,466.71 L89.44,461.56 L87.13,456.80 L86.96,456.41 L84.89,451.26 L82.94,446.10 L81.97,443.34 L81.22,440.95 L79.71,435.80 L78.30,430.65 L76.97,425.50 L76.81,424.80 L75.87,420.34 L74.85,415.19 L73.90,410.04 L73.01,404.89 L72.19,399.73 L71.65,396.11 L71.45,394.58 L70.81,389.43 L70.23,384.28 L69.68,379.12 L69.17,373.97 L68.69,368.82 L68.25,363.67 L67.84,358.51 L67.46,353.36 L67.11,348.21 L66.78,343.06 L66.49,338.20 L66.47,337.90 L66.22,332.75 L65.99,327.60 L65.77,322.45 L65.57,317.30 L65.38,312.14 L65.21,306.99 L65.05,301.84 L64.90,296.69 L64.76,291.53 L64.63,286.38 L64.51,281.23 L64.40,276.08 L64.29,270.92 L64.20,265.77 L64.11,260.62 L64.03,255.47 L63.95,250.31 L63.88,245.16 L63.81,240.01 L63.75,234.86 L63.69,229.70 L63.64,224.55 L63.58,219.40 L63.54,214.25 L63.49,209.10 L63.45,203.94 L63.42,198.79 L63.38,193.64 L63.35,188.49 L63.32,183.33 L63.29,178.18 L63.26,173.03 L63.24,167.88 L63.22,162.72 L63.19,157.57 L63.17,152.42 L63.16,147.27 L63.14,142.11 L63.12,136.96 L63.11,131.81 L63.09,126.66 L63.08,121.50 L63.07,116.35 L63.05,111.20 L63.04,106.05 L63.03,100.90 L63.02,95.74 L63.01,90.59 L63.01,85.44 L63.00,80.29 L62.99,75.13 L62.98,69.98 L62.98,64.83 L62.97,59.68 L62.97,54.52 L62.96,49.37 L62.95,44.22 L62.95,39.07 L62.95,33.91 L62.94,28.76 L62.94,23.61 L62.93,18.46 L62.93,13.30 L62.93,8.15 L62.92,3.00 M347.06,3.00 L347.12,8.15 L347.18,13.30 L347.24,18.46 L347.31,23.61 L347.39,28.76 L347.48,33.91 L347.57,39.07 L347.68,44.22 L347.79,49.37 L347.92,54.52 L348.06,59.68 L348.21,64.83 L348.38,69.98 L348.57,75.13 L348.77,80.29 L349.00,85.44 L349.24,90.59 L349.52,95.74 L349.82,100.90 L350.15,106.05 L350.39,109.47 L350.52,111.20 L350.94,116.35 L351.40,121.50 L351.91,126.66 L352.48,131.81 L353.11,136.96 L353.81,142.11 L354.58,147.27 L355.45,152.42 L355.55,152.98 L356.45,157.57 L357.57,162.72 L358.82,167.88 L360.22,173.03 L360.71,174.66 L361.85,178.18 L363.71,183.33 L365.80,188.49 L365.88,188.66 L368.29,193.64 L371.04,198.65 L371.12,198.79 L374.53,203.94 L376.20,206.20 L378.56,209.10 L381.36,212.19 L383.42,214.25 L386.52,217.05 L389.43,219.40 L391.69,221.07 L396.85,224.47 L396.99,224.55 L402.01,227.30 L407.00,229.70 L407.17,229.78 L412.33,231.87 L417.50,233.72 L421.03,234.86 L422.66,235.35 L427.82,236.75 L432.98,238.00 L438.14,239.12 L442.74,240.01 L443.30,240.11 L448.47,240.98 L453.63,241.75 L458.79,242.45 L463.95,243.08 L469.11,243.64 L474.28,244.15 L479.44,244.62 L484.60,245.03 L486.33,245.16 L489.76,245.40 L494.92,245.74 L500.09,246.04 L505.25,246.31 L510.41,246.55 L515.57,246.78 L520.73,246.98 L525.90,247.17 L531.06,247.33 L536.22,247.49 L541.38,247.63 L546.54,247.75 L551.70,247.87 L556.87,247.97 L562.03,248.07 L567.19,248.15 L572.35,248.23 L577.51,248.30 L582.68,248.37 L587.84,248.43 L593.00,248.48"/>
<path stroke="#ff1000" d="M593.00,534.02 L587.84,534.01 L582.68,534.01 L577.51,534.01 L572.35,534.00 L567.19,534.00 L562.03,534.00 L556.87,533.99 L551.70,533.99 L546.54,533.98 L541.38,533.98 L536.22,533.97 L531.06,533.97 L525.90,533.96 L520.73,533.96 L515.57,533.95 L510.41,533.94 L505.25,533.93 L500.09,533.93 L494.92,533.92 L489.76,533.91 L484.60,533.90 L479.44,533.89 L474.28,533.88 L469.11,533.87 L463.95,533.85 L458.79,533.84 L453.63,533.82 L448.47,533.81 L443.30,533.79 L438.14,533.77 L432.98,533.76 L427.82,533.74 L422.66,533.71 L418.72,533.70 L417.50,533.69 L412.33,533.66 L407.17,533.63 L402.01,533.60 L396.85,533.56 L391.69,533.52 L386.52,533.48 L381.36,533.44 L376.20,533.39 L371.04,533.34 L365.88,533.29 L360.71,533.23 L355.55,533.16 L350.39,533.10 L345.23,533.02 L340.07,532.94 L334.90,532.86 L329.74,532.77 L324.58,532.67 L319.42,532.57 L314.26,532.45 L309.10,532.33 L303.93,532.20 L298.77,532.06 L293.61,531.91 L288.45,531.75 L283.29,531.57 L278.12,531.38 L272.96,531.18 L267.80,530.96 L262.64,530.72 L257.48,530.47 L252.31,530.19 L247.15,529.90 L241.99,529.58 L236.83,529.24 L231.67,528.88 L227.31,528.54 L226.50,528.47 L221.34,527.99 L216.18,527.47 L211.02,526.92 L205.86,526.32 L200.70,525.68 L195.53,524.99 L190.37,524.25 L185.21,523.46 L184.80,523.39 L180.05,522.50 L174.89,521.47 L169.72,520.36 L164.56,519.18 L160.75,518.24 L159.40,517.87 L154.24,516.33 L149.08,514.69 L144.36,513.09 L143.91,512.92 L138.75,510.81 L133.59,508.55 L132.27,507.93 L128.43,505.93 L123.27,503.05 L122.82,502.78 L118.10,499.65 L115.27,497.63 L112.94,495.81 L108.99,492.48 L107.78,491.36 L103.73,487.32 L102.62,486.12 L99.28,482.17 L97.46,479.85 L95.43,477.02 L92.30,472.32 L92.02,471.87 L89.14,466.71 L87.13,462.88 L86.51,461.56 L84.26,456.41 L82.14,451.26 L81.97,450.81 L80.36,446.10 L78.72,440.95 L77.18,435.80 L76.81,434.45 L75.87,430.65 L74.68,425.50 L73.57,420.34 L72.54,415.19 L71.65,410.45 L71.58,410.04 L70.78,404.89 L70.04,399.73 L69.35,394.58 L68.71,389.43 L68.11,384.28 L67.56,379.12 L67.04,373.97 L66.56,368.82 L66.49,368.01 L66.15,363.67 L65.79,358.51 L65.44,353.36 L65.13,348.21 L64.83,343.06 L64.56,337.90 L64.30,332.75 L64.07,327.60 L63.85,322.45 L63.64,317.30 L63.45,312.14 L63.28,306.99 L63.11,301.84 L62.96,296.69 L62.82,291.53 L62.69,286.38 L62.57,281.23 L62.45,276.08 L62.35,270.92 L62.25,265.77 L62.16,260.62 L62.08,255.47 L62.00,250.31 L61.92,245.16 L61.86,240.01 L61.79,234.86 L61.73,229.70 L61.68,224.55 L61.63,219.40 L61.58,214.25 L61.54,209.10 L61.50,203.94 L61.46,198.79 L61.42,193.64 L61.39,188.49 L61.36,183.33 L61.33,178.18 L61.32,176.96 L61.31,173.03 L61.28,167.88 L61.26,162.72 L61.24,157.57 L61.23,152.42 L61.21,147.27 L61.19,142.11 L61.18,136.96 L61.17,131.81 L61.15,126.66 L61.14,121.50 L61.13,116.35 L61.12,111.20 L61.11,106.05 L61.10,100.90 L61.09,95.74 L61.08,90.59 L61.08,85.44 L61.07,80.29 L61.06,75.13 L61.06,69.98 L61.05,64.83 L61.05,59.68 L61.04,54.52 L61.04,49.37 L61.03,44.22 L61.03,39.07 L61.02,33.91 L61.02,28.76 L61.02,23.61 L61.01,18.46 L61.01,13.30 L61.01,8.15 L61.00,3.00 M365.39,3.00 L365.47,8.15 L365.55,13.30 L365.64,18.46 L365.74,23.61 L365.85,28.76 L365.88,29.93 L365.97,33.91 L366.11,39.07 L366.26,44.22 L366.42,49.37 L366.61,54.52 L366.81,59.68 L367.03,64.83 L367.27,69.98 L367.53,75.13 L367.83,80.29 L368.15,85.44 L368.51,90.59 L368.90,95.74 L369.34,100.90 L369.82,106.05 L370.36,111.20 L370.95,116.35 L371.04,117.08 L371.62,121.50 L372.38,126.66 L373.22,131.81 L374.16,136.96 L375.20,142.11 L376.20,146.54 L376.37,147.27 L377.74,152.42 L379.26,157.57 L380.98,162.72 L381.36,163.76 L382.99,167.88 L385.28,173.03 L386.52,175.53 L387.95,178.18 L391.06,183.33 L391.69,184.26 L394.79,188.49 L396.85,191.00 L399.23,193.64 L402.01,196.41 L404.65,198.79 L407.17,200.85 L411.40,203.94 L412.33,204.56 L417.50,207.67 L420.16,209.10 L422.66,210.33 L427.82,212.62 L431.94,214.25 L432.98,214.63 L438.14,216.34 L443.30,217.87 L448.47,219.23 L449.19,219.40 L453.63,220.40 L458.79,221.44 L463.95,222.37 L469.11,223.21 L474.28,223.97 L478.71,224.55 L479.44,224.64 L484.60,225.23 L489.76,225.77 L494.92,226.25 L500.09,226.68 L505.25,227.08 L510.41,227.43 L515.57,227.76 L520.73,228.05 L525.90,228.32 L531.06,228.56 L536.22,228.78 L541.38,228.98 L546.54,229.16 L551.70,229.32 L556.87,229.47 L562.03,229.61 L566.02,229.70 L567.19,229.73 L572.35,229.84 L577.51,229.94 L582.68,230.03 L587.84,230.11 L593.00,230.19"/>
<path stroke="#cf0000" d="M593.00,535.74 L587.84,535.74 L582.68,535.73 L577.51,535.73 L572.35,535.73 L567.19,535.72 L562.03,535.72 L556.87,535.72 L551.70,535.71 L546.54,535.71 L541.38,535.70 L536.22,535.70 L531.06,535.69 L525.90,535.69 L520.73,535.68 L515.57,535.67 L510.41,535.67 L505.25,535.66 L500.09,535.65 L494.92,535.64 L489.76,535.63 L484.60,535.62 L479.44,535.61 L474.28,535.60 L469.11,535.59 L463.95,535.58 L458.79,535.56 L453.63,535.55 L448.47,535.53 L443.30,535.51 L438.14,535.50 L432.98,535.48 L427.82,535.46 L422.66,535.43 L417.50,535.41 L412.33,535.39 L407.17,535.37 L402.01,535.35 L396.85,535.33 L391.69,535.31 L386.52,535.28 L381.36,535.25 L376.20,535.22 L371.04,535.19 L365.88,535.15 L360.71,535.11 L355.55,535.07 L350.39,535.02 L345.23,534.97 L340.07,534.91 L334.90,534.84 L329.74,534.76 L324.58,534.68 L319.42,534.59 L314.26,534.48 L309.10,534.36 L303.93,534.22 L298.77,534.06 L293.61,533.88 L289.12,533.70 L288.45,533.67 L283.29,533.50 L278.12,533.30 L272.96,533.10 L267.80,532.87 L262.64,532.63 L257.48,532.38 L252.31,532.10 L247.15,531.80 L241.99,531.48 L236.83,531.13 L231.67,530.76 L226.50,530.36 L221.34,529.94 L216.18,529.57 L211.02,529.07 L206.91,528.54 L205.86,528.42 L200.70,527.77 L195.53,527.07 L190.37,526.32 L185.21,525.51 L180.05,524.65 L174.89,523.78 L173.20,523.39 L169.72,522.64 L164.56,521.43 L159.40,520.14 L154.24,518.78 L152.44,518.24 L149.08,517.15 L143.91,515.37 L138.75,513.46 L137.81,513.09 L133.59,511.22 L128.43,508.77 L126.79,507.93 L123.27,505.95 L118.10,502.83 L118.03,502.78 L112.94,499.12 L111.02,497.63 L107.78,494.88 L105.16,492.48 L102.62,489.94 L100.21,487.32 L97.46,484.09 L95.96,482.17 L92.30,477.09 L92.25,477.02 L89.12,471.87 L87.13,468.35 L86.29,466.71 L83.84,461.56 L81.97,457.35 L81.59,456.41 L79.68,451.26 L77.90,446.10 L76.81,442.74 L76.27,440.95 L74.91,435.80 L73.61,430.65 L72.40,425.50 L71.65,422.03 L71.26,420.34 L70.39,415.19 L69.52,410.04 L68.72,404.89 L67.96,399.73 L67.26,394.58 L66.61,389.43 L66.49,388.38 L65.95,384.28 L65.46,379.12 L65.09,373.97 L64.66,368.82 L64.26,363.67 L63.89,358.51 L63.54,353.36 L63.22,348.21 L62.92,343.06 L62.64,337.90 L62.39,332.75 L62.15,327.60 L61.92,322.45 L61.72,317.30 L61.52,312.14 L61.35,306.99 L61.32,306.32 L61.14,301.84 L60.95,296.69 L60.80,291.53 L60.66,286.38 L60.54,281.23 L60.43,276.08 L60.34,270.92 L60.25,265.77 L60.18,260.62 L60.11,255.47 L60.05,250.31 L60.00,245.16 L59.95,240.01 L59.90,234.86 L59.86,229.70 L59.83,224.55 L59.79,219.40 L59.76,214.25 L59.73,209.10 L59.71,203.94 L59.68,198.79 L59.66,193.64 L59.64,188.49 L59.62,183.33 L59.61,178.18 L59.58,173.03 L59.56,167.88 L59.54,162.72 L59.52,157.57 L59.50,152.42 L59.48,147.27 L59.47,142.11 L59.45,136.96 L59.44,131.81 L59.43,126.66 L59.41,121.50 L59.40,116.35 L59.39,111.20 L59.38,106.05 L59.37,100.90 L59.37,95.74 L59.36,90.59 L59.35,85.44 L59.34,80.29 L59.34,75.13 L59.33,69.98 L59.32,64.83 L59.32,59.68 L59.31,54.52 L59.31,49.37 L59.30,44.22 L59.30,39.07 L59.30,33.91 L59.29,28.76 L59.29,23.61 L59.28,18.46 L59.28,13.30 L59.28,8.15 L59.28,3.00 M386.12,3.00 L386.23,8.15 L386.35,13.30 L386.48,18.46 L386.52,19.85 L386.63,23.61 L386.80,28.76 L386.98,33.91 L387.18,39.07 L387.41,44.22 L387.65,49.37 L387.92,54.52 L388.21,59.68 L388.54,64.83 L388.90,69.98 L389.29,75.13 L389.73,80.29 L390.21,85.44 L390.75,90.59 L391.34,95.74 L391.69,98.46 L392.01,100.90 L392.77,106.05 L393.61,111.20 L394.55,116.35 L395.59,121.50 L396.76,126.66 L396.85,127.02 L398.12,131.81 L399.65,136.96 L401.36,142.11 L402.01,143.87 L403.36,147.27 L405.65,152.42 L407.17,155.48 L408.30,157.57 L411.41,162.72 L412.33,164.11 L415.10,167.88 L417.50,170.79 L419.51,173.03 L422.66,176.17 L424.90,178.18 L427.82,180.57 L431.60,183.33 L432.98,184.26 L438.14,187.36 L440.24,188.49 L443.30,190.01 L448.47,192.29 L451.87,193.64 L453.63,194.29 L458.79,196.00 L463.95,197.52 L468.75,198.79 L469.11,198.88 L474.28,200.04 L479.44,201.09 L484.60,202.02 L489.76,202.86 L494.92,203.62 L497.36,203.94 L500.09,204.29 L505.25,204.88 L510.41,205.41 L515.57,205.89 L520.73,206.33 L525.90,206.73 L531.06,207.08 L536.22,207.41 L541.38,207.70 L546.54,207.97 L551.70,208.22 L556.87,208.44 L562.03,208.64 L567.19,208.82 L572.35,208.98 L576.12,209.10 L577.51,209.13 L582.68,209.27 L587.84,209.39 L593.00,209.50"/>
<path stroke="#9f0000" d="M593.00,537.46 L587.84,537.46 L582.68,537.46 L577.51,537.46 L572.35,537.45 L567.19,537.45 L562.03,537.44 L556.87,537.44 L551.70,537.44 L546.54,537.43 L541.38,537.43 L536.22,537.42 L531.06,537.42 L525.90,537.41 L520.73,537.40 L515.57,537.40 L510.41,537.39 L505.25,537.38 L500.09,537.37 L494.92,537.36 L489.76,537.36 L484.60,537.35 L479.44,537.33 L474.28,537.32 L469.11,537.31 L463.95,537.30 L458.79,537.28 L453.63,537.27 L448.47,537.25 L443.30,537.24 L438.14,537.22 L432.98,537.20 L427.82,537.18 L422.66,537.16 L417.50,537.13 L412.33,537.12 L407.17,537.11 L402.01,537.10 L396.85,537.09 L391.69,537.08 L386.52,537.07 L381.36,537.05 L376.20,537.04 L371.04,537.02 L365.88,537.00 L360.71,536.98 L355.55,536.96 L350.39,536.93 L345.23,536.91 L340.07,536.88 L334.90,536.84 L329.74,536.81 L324.58,536.76 L319.42,536.72 L314.26,536.66 L309.10,536.60 L303.93,536.54 L298.77,536.46 L293.61,536.36 L288.45,536.26 L283.29,536.13 L278.12,535.98 L272.96,535.80 L267.80,535.57 L262.64,535.28 L257.48,534.91 L252.31,534.41 L247.15,533.71 L247.06,533.70 L241.99,533.38 L236.83,533.02 L231.67,532.65 L226.50,532.24 L221.34,531.82 L216.18,531.63 L211.02,531.38 L205.86,531.04 L200.70,530.53 L195.53,529.70 L191.47,528.54 L190.37,528.38 L185.21,527.56 L180.05,526.68 L174.89,526.16 L169.72,525.45 L164.56,523.98 L163.43,523.39 L159.40,522.37 L154.24,521.08 L149.08,520.09 L145.16,518.24 L143.91,517.80 L138.75,515.87 L133.59,514.27 L131.95,513.09 L128.43,511.40 L123.27,509.16 L121.81,507.93 L118.10,505.67 L113.70,502.78 L112.94,502.24 L107.78,498.47 L106.94,497.63 L102.62,493.71 L101.38,492.48 L97.46,488.16 L96.62,487.32 L92.84,482.17 L92.30,481.42 L89.40,477.02 L87.13,473.33 L85.90,471.87 L83.66,466.71 L81.97,463.20 L80.78,461.56 L79.19,456.41 L77.25,451.26 L76.81,450.01 L74.96,446.10 L73.96,440.95 L72.67,435.80 L71.65,431.78 L71.06,430.65 L69.58,425.50 L68.87,420.34 L68.35,415.19 L67.47,410.04 L66.65,404.89 L66.49,403.79 L65.33,399.73 L64.49,394.58 L63.98,389.43 L63.64,384.28 L63.39,379.12 L63.21,373.97 L62.78,368.82 L62.37,363.67 L62.00,358.51 L61.64,353.36 L61.32,348.30 L61.31,348.21 L60.60,343.06 L60.10,337.90 L59.73,332.75 L59.45,327.60 L59.22,322.45 L59.04,317.30 L58.88,312.14 L58.76,306.99 L58.65,301.84 L58.56,296.69 L58.48,291.53 L58.41,286.38 L58.35,281.23 L58.30,276.08 L58.25,270.92 L58.21,265.77 L58.17,260.62 L58.14,255.47 L58.11,250.31 L58.08,245.16 L58.05,240.01 L58.03,234.86 L58.01,229.70 L57.99,224.55 L57.98,219.40 L57.96,214.25 L57.95,209.10 L57.93,203.94 L57.92,198.79 L57.91,193.64 L57.90,188.49 L57.89,183.33 L57.88,178.18 L57.86,173.03 L57.83,167.88 L57.81,162.72 L57.79,157.57 L57.78,152.42 L57.76,147.27 L57.74,142.11 L57.73,136.96 L57.71,131.81 L57.70,126.66 L57.69,121.50 L57.68,116.35 L57.67,111.20 L57.66,106.05 L57.65,100.90 L57.64,95.74 L57.63,90.59 L57.62,85.44 L57.62,80.29 L57.61,75.13 L57.60,69.98 L57.60,64.83 L57.59,59.68 L57.59,54.52 L57.58,49.37 L57.58,44.22 L57.57,39.07 L57.57,33.91 L57.56,28.76 L57.56,23.61 L57.56,18.46 L57.55,13.30 L57.55,8.15 L57.55,3.00 M410.18,3.00 L410.35,8.15 L410.54,13.30 L410.75,18.46 L410.98,23.61 L411.23,28.76 L411.51,33.91 L411.82,39.07 L412.16,44.22 L412.33,46.65 L412.54,49.37 L412.97,54.52 L413.44,59.68 L413.96,64.83 L414.54,69.98 L415.18,75.13 L415.89,80.29 L416.68,85.44 L417.50,90.25 L417.56,90.59 L418.57,95.74 L419.71,100.90 L420.98,106.05 L422.40,111.20 L422.66,112.06 L424.05,116.35 L425.93,121.50 L427.82,126.13 L428.05,126.66 L430.57,131.81 L432.98,136.20 L433.44,136.96 L436.87,142.11 L438.14,143.83 L440.94,147.27 L443.30,149.88 L445.85,152.42 L448.47,154.78 L451.91,157.57 L453.63,158.85 L458.79,162.27 L459.56,162.72 L463.95,165.13 L469.11,167.65 L469.64,167.88 L474.28,169.76 L479.44,171.64 L483.74,173.03 L484.60,173.29 L489.76,174.70 L494.92,175.97 L500.09,177.10 L505.25,178.12 L505.59,178.18 L510.41,179.00 L515.57,179.78 L520.73,180.49 L525.90,181.13 L531.06,181.71 L536.22,182.23 L541.38,182.70 L546.54,183.13 L549.27,183.33 L551.70,183.51 L556.87,183.85 L562.03,184.15 L567.19,184.43 L572.35,184.68 L577.51,184.91 L582.68,185.12 L587.84,185.31 L593.00,185.49"/>
<path stroke="#ff0000" stroke-width="1.15" d="M541.38,456.41 L540.04,455.74 L538.70,455.07 L537.35,454.40 L536.01,453.74 L534.66,453.07 L533.32,452.41 L531.97,451.75 L530.62,451.10 L529.27,450.45 L527.91,449.81 L526.55,449.17 L525.19,448.54 L523.83,447.92 L522.46,447.30 L521.09,446.70 L519.71,446.10 L518.33,445.52 L516.94,444.94 L515.55,444.38 L514.16,443.83 L512.76,443.30 L511.35,442.78 L509.93,442.28 L508.51,441.80 L507.09,441.34 L505.65,440.89 L504.21,440.47 L502.77,440.08 L501.31,439.71 L499.85,439.37 L498.38,439.06 L496.91,438.78 L495.43,438.54 L493.94,438.33 L492.45,438.16 L490.96,438.04 L489.46,437.96 L487.96,437.93 L486.46,437.95 L484.96,438.02 L483.47,438.15 L481.98,438.33 L480.50,438.57 L479.03,438.88 L477.58,439.24 L476.14,439.67 L474.72,440.15 L473.32,440.70 L471.95,441.30 L470.60,441.96 L469.28,442.66 L467.98,443.42 L466.72,444.23 L465.48,445.07 L464.26,445.95 L463.08,446.87 L461.91,447.82 L460.77,448.79 L459.65,449.78 L458.54,450.80 L457.46,451.83 L456.38,452.88 L455.31,453.93 L454.25,454.99 L453.20,456.06 L452.14,457.12 L451.09,458.19 L450.02,459.25 L448.95,460.30 L447.87,461.34 L446.77,462.36 L445.65,463.36 L444.51,464.33 L443.35,465.28 L442.15,466.18 L440.93,467.05 L439.67,467.87 L438.38,468.63 L437.06,469.33 L435.70,469.97 L434.31,470.53 L432.89,471.02 L431.44,471.42 L429.98,471.75 L428.50,471.99 L427.01,472.15 L425.51,472.24 L424.01,472.25 L422.51,472.20 L421.02,472.08 L419.53,471.90 L418.05,471.67 L416.57,471.40 L415.11,471.07 L413.65,470.71 L412.21,470.31 L410.77,469.88 L409.34,469.42 L407.92,468.93 L406.51,468.42 L405.11,467.88 L403.72,467.33 L402.33,466.75 L400.95,466.16 L399.58,465.56 L398.21,464.94 L396.85,464.32 L395.49,463.68 L394.14,463.03 L392.79,462.37 L391.45,461.71 L390.11,461.03 L388.77,460.36 L387.43,459.68 L386.10,458.99 L384.77,458.30 L383.44,457.61 L382.11,456.91 L380.78,456.22 L379.45,455.52 L378.12,454.82 L376.79,454.13 L375.46,453.43 L374.13,452.74 L372.80,452.05 L371.47,451.36 L370.13,450.68 L368.80,450.00 L367.46,449.32 L366.12,448.65 L364.77,447.99 L363.42,447.33 L362.07,446.68 L360.71,446.04 L359.35,445.41 L357.99,444.78 L356.62,444.17 L355.24,443.57 L353.86,442.99 L352.48,442.42 L351.08,441.86 L349.68,441.32 L348.28,440.79 L346.87,440.29 L345.45,439.81 L344.02,439.35 L342.58,438.91 L341.14,438.50 L339.69,438.11 L338.23,437.76 L336.77,437.44 L335.30,437.16 L333.82,436.91 L332.33,436.70 L330.84,436.54 L329.34,436.42 L327.85,436.35 L326.35,436.34 L324.85,436.38 L323.35,436.48 L321.86,436.64 L320.37,436.86 L318.90,437.14 L317.44,437.50 L316.00,437.91 L314.58,438.39 L313.19,438.94 L311.81,439.55 L310.47,440.21 L309.15,440.93 L307.87,441.70 L306.61,442.52 L305.39,443.39 L304.19,444.29 L303.02,445.22 L301.87,446.19 L300.75,447.19 L299.65,448.21 L298.56,449.24 L297.49,450.30 L296.44,451.36 L295.39,452.44 L294.35,453.52 L293.31,454.60 L292.27,455.68 L291.23,456.76 L290.18,457.83 L289.11,458.88 L288.02,459.92 L286.92,460.93 L285.78,461.91 L284.62,462.85 L283.42,463.75 L282.18,464.60 L280.90,465.38 L279.57,466.08 L278.21,466.70 L276.80,467.22 L275.36,467.64 L273.89,467.96 L272.41,468.16 L270.91,468.25 L269.41,468.24 L267.92,468.14 L266.43,467.94 L264.96,467.67 L263.50,467.32 L262.06,466.90 L260.63,466.43 L259.22,465.91 L257.84,465.34 L256.46,464.73 L255.11,464.09 L253.77,463.42 L252.44,462.72 L251.13,461.99 L249.83,461.24 L248.55,460.47 L247.27,459.68 L246.01,458.87 L244.75,458.05 L243.51,457.21 L242.27,456.36 L241.04,455.50 L239.82,454.63 L238.60,453.76 L237.39,452.87 L236.19,451.97 L234.99,451.07 L233.80,450.16 L232.61,449.25 L231.43,448.33 L230.25,447.40 L229.07,446.47 L227.89,445.54 L226.72,444.60 L225.55,443.66 L224.38,442.72 L223.22,441.78 L222.05,440.83 L220.89,439.88 L219.73,438.94 L218.57,437.99 L217.41,437.04 L216.24,436.09 L215.08,435.14 L213.92,434.19 L212.76,433.24 L211.60,432.29 L210.43,431.35 L209.27,430.40 L208.10,429.46 L206.93,428.52 L205.76,427.58 L204.59,426.64 L203.42,425.71 L202.24,424.78 L201.06,423.85 L199.88,422.93 L198.70,422.00 L197.51,421.08 L196.33,420.17 L195.13,419.26 L193.94,418.35 L192.75,417.44 L191.55,416.54 L190.35,415.64 L189.14,414.74 L187.94,413.85 L186.73,412.96 L185.52,412.07 L184.31,411.19 L183.10,410.30 L181.89,409.42 L180.67,408.54 L179.45,407.67 L178.24,406.79 L177.02,405.91 L175.80,405.04 L174.58,404.16 L173.37,403.28 L172.15,402.41 L170.93,401.53 L169.72,400.65 L168.50,399.77 L167.29,398.89 L166.08,398.00 L164.87,397.11 L163.67,396.22 L162.46,395.33 L161.26,394.43 L160.06,393.52 L158.87,392.62 L157.68,391.70 L156.49,390.79 L155.31,389.86 L154.13,388.93 L152.96,388.00 L151.80,387.05 L150.64,386.10 L149.48,385.14 L148.34,384.17 L147.20,383.20 L146.07,382.21 L144.95,381.21 L143.84,380.20 L142.74,379.18 L141.65,378.15 L140.58,377.10 L139.52,376.04 L138.47,374.97 L137.45,373.87 L136.44,372.76 L135.46,371.62 L134.51,370.46 L133.59,369.28 L132.70,368.07 L131.86,366.83 L131.06,365.56 L130.33,364.25 L129.68,362.90 L129.11,361.51 L128.66,360.08 L128.35,358.61 L128.20,357.12 L128.25,355.62 L128.50,354.15 L128.96,352.72 L129.60,351.37 L130.40,350.10 L131.32,348.91 L132.33,347.81 L133.42,346.77 L134.55,345.79 L135.73,344.86 L136.93,343.97 L138.16,343.10 L139.40,342.26 L140.65,341.43 L141.91,340.61 L143.17,339.80 L144.43,338.98 L145.68,338.17 L146.94,337.34 L148.18,336.50 L149.41,335.64 L150.63,334.77 L151.83,333.87 L153.01,332.94 L154.16,331.98 L155.28,330.99 L156.37,329.96 L157.42,328.89 L158.43,327.77 L159.38,326.61 L160.28,325.41 L161.11,324.16 L161.86,322.87 L162.54,321.53 L163.14,320.15 L163.64,318.74 L164.06,317.30 L164.39,315.84 L164.63,314.36 L164.78,312.86 L164.85,311.37 L164.84,309.87 L164.75,308.37 L164.60,306.88 L164.39,305.39 L164.12,303.92 L163.80,302.45 L163.43,301.00 L163.01,299.56 L162.56,298.13 L162.07,296.71 L161.55,295.30 L161.00,293.91 L160.42,292.52 L159.82,291.15 L159.20,289.78 L158.55,288.43 L157.89,287.08 L157.21,285.75 L156.51,284.42 L155.80,283.10 L155.08,281.78 L154.34,280.48 L153.59,279.18 L152.84,277.88 L152.07,276.59 L151.29,275.31 L150.51,274.03 L149.72,272.75 L148.93,271.48 L148.13,270.21 L147.32,268.95 L146.51,267.69 L145.70,266.43 L144.88,265.17 L144.06,263.91 L143.24,262.66 L142.41,261.40 L141.59,260.15 L140.77,258.90 L139.94,257.64 L139.12,256.39 L138.30,255.14 L137.48,253.88 L136.66,252.62 L135.84,251.36 L135.03,250.10 L134.23,248.84 L133.43,247.57 L132.63,246.29 L131.84,245.02 L131.06,243.74 L130.29,242.45 L129.53,241.16 L128.78,239.86 L128.05,238.55 L127.33,237.23 L126.62,235.91 L125.93,234.58 L125.27,233.23 L124.62,231.88 L124.01,230.51 L123.42,229.13 L122.86,227.74 L122.35,226.33 L121.88,224.91 L121.45,223.47 L121.09,222.01 L120.79,220.54 L120.56,219.06 L120.42,217.57 L120.38,216.07 L120.44,214.57 L120.62,213.08 L120.92,211.61 L121.34,210.17 L121.90,208.78 L122.56,207.44 L123.34,206.15 L124.21,204.93 L125.16,203.77 L126.18,202.67 L127.25,201.62 L128.37,200.62 L129.52,199.66 L130.70,198.74 L131.91,197.85 L133.14,196.99 L134.38,196.14 L135.63,195.31 L136.88,194.50 L138.15,193.68 L139.41,192.87 L140.67,192.06 L141.93,191.25 L143.18,190.42 L144.42,189.58 L145.66,188.73 L146.87,187.85 L148.07,186.95 L149.25,186.02 L150.41,185.06 L151.53,184.07 L152.62,183.04 L153.67,181.97 L154.68,180.86 L155.63,179.70 L156.52,178.49 L157.35,177.25 L158.11,175.95 L158.79,174.62 L159.39,173.24 L159.91,171.83 L160.34,170.40 L160.69,168.94 L160.95,167.46 L161.12,165.97 L161.22,164.47 L161.25,162.98 L161.21,161.48 L161.10,159.98 L160.93,158.49 L160.71,157.01 L160.44,155.53 L160.12,154.06 L159.76,152.61 L159.36,151.16 L158.93,149.73 L158.47,148.30 L157.97,146.88 L157.45,145.48 L156.91,144.08 L156.34,142.69 L155.76,141.31 L155.15,139.94 L154.52,138.57 L153.88,137.22 L153.23,135.87 L152.56,134.52 L151.88,133.19 L151.19,131.86 L150.49,130.53 L149.77,129.21 L149.05,127.90 L148.32,126.59 L147.59,125.28 L146.84,123.98 L146.09,122.68 L145.34,121.38 L144.58,120.09 L143.82,118.80 L143.05,117.51 L142.28,116.22 L141.51,114.93 L140.74,113.65 L139.96,112.36 L139.18,111.08 L138.41,109.80 L137.63,108.51 L136.86,107.23 L136.09,105.94 L135.32,104.65 L134.55,103.37 L133.78,102.08 L133.02,100.78 L132.27,99.49 L131.52,98.19 L130.78,96.88 L130.04,95.58 L129.32,94.26 L128.60,92.95 L127.89,91.62 L127.20,90.29 L126.52,88.95 L125.86,87.61 L125.21,86.26 L124.58,84.89 L123.97,83.52 L123.39,82.14 L122.84,80.75 L122.31,79.34 L121.82,77.92 L121.37,76.49 L120.97,75.05 L120.61,73.59 L120.31,72.12 L120.08,70.64 L119.92,69.15 L119.83,67.65 L119.84,66.15 L119.95,64.66 L120.16,63.17 L120.49,61.71 L120.93,60.27 L121.47,58.88 L122.13,57.53 L122.88,56.23 L123.72,54.99 L124.64,53.80 L125.62,52.67 L126.66,51.59 L127.74,50.55 L128.87,49.55 L130.02,48.59 L131.20,47.67 L132.40,46.76 L133.61,45.88 L134.84,45.02 L136.07,44.17 L137.31,43.32 L138.55,42.48 L139.80,41.64 L141.04,40.80 L142.27,39.95 L143.50,39.09 L144.72,38.22 L145.93,37.33 L147.12,36.42 L148.29,35.48 L149.44,34.52 L150.57,33.53 L151.66,32.50 L152.72,31.43 L153.73,30.33 L154.70,29.19 L155.62,28.00 L156.48,26.77 L157.28,25.50 L158.00,24.19 L158.65,22.84 L159.22,21.45 L159.72,20.03 L160.13,18.59 L160.45,17.13 L160.70,15.65 L160.87,14.16 L160.97,12.66 L160.99,11.16 L160.95,9.66 L160.84,8.17 L160.68,6.67 L160.47,5.19 L160.21,3.71 L159.90,2.24 L159.55,0.79 L159.17,-0.66 L158.75,-2.10 L158.30,-3.53 L157.82,-4.96"/>
</g>
<g fill="#262626" shape-rendering="crispEdges">
<path fill-rule="evenodd" d="M51,3 h543 v542 h-543 z M52,4 h541 v540 h-541 z"/>
<rect x="102" y="538" width="1" height="6"/><rect x="102" y="4" width="1" height="5"/>
<rect x="52" y="492" width="5" height="1"/><rect x="587" y="492" width="6" height="1"/>
<rect x="154" y="538" width="1" height="6"/><rect x="154" y="4" width="1" height="5"/>
<rect x="52" y="440" width="5" height="1"/><rect x="587" y="440" width="6" height="1"/>
<rect x="205" y="538" width="1" height="6"/><rect x="205" y="4" width="1" height="5"/>
<rect x="52" y="389" width="5" height="1"/><rect x="587" y="389" width="6" height="1"/>
<rect x="257" y="538" width="1" height="6"/><rect x="257" y="4" width="1" height="5"/>
<rect x="52" y="337" width="5" height="1"/><rect x="587" y="337" width="6" height="1"/>
<rect x="309" y="538" width="1" height="6"/><rect x="309" y="4" width="1" height="5"/>
<rect x="52" y="286" width="5" height="1"/><rect x="587" y="286" width="6" height="1"/>
<rect x="360" y="538" width="1" height="6"/><rect x="360" y="4" width="1" height="5"/>
<rect x="52" y="234" width="5" height="1"/><rect x="587" y="234" width="6" height="1"/>
<rect x="412" y="538" width="1" height="6"/><rect x="412" y="4" width="1" height="5"/>
<rect x="52" y="183" width="5" height="1"/><rect x="587" y="183" width="6" height="1"/>
<rect x="463" y="538" width="1" height="6"/><rect x="463" y="4" width="1" height="5"/>
<rect x="52" y="131" width="5" height="1"/><rect x="587" y="131" width="6" height="1"/>
<rect x="515" y="538" width="1" height="6"/><rect x="515" y="4" width="1" height="5"/>
<rect x="52" y="80" width="5" height="1"/><rect x="587" y="80" width="6" height="1"/>
<rect x="567" y="538" width="1" height="6"/><rect x="567" y="4" width="1" height="5"/>
<rect x="52" y="28" width="5" height="1"/><rect x="587" y="28" width="6" height="1"/>
</g>
<g style="filter:grayscale(1)">
<text class="t" x="50.7" y="562.8" text-anchor="middle">0.4</text>
<text class="t" x="45.1" y="550.2" text-anchor="end">0.4</text>
<text class="t" x="102.3" y="562.8" text-anchor="middle">0.6</text>
<text class="t" x="45.1" y="498.7" text-anchor="end">0.6</text>
<text class="t" x="153.9" y="562.8" text-anchor="middle">0.8</text>
<text class="t" x="45.1" y="447.2" text-anchor="end">0.8</text>
<text class="t" x="205.0" y="562.8" text-anchor="middle">1</text>
<text class="t" x="45.1" y="395.6" text-anchor="end">1</text>
<text class="t" x="257.2" y="562.8" text-anchor="middle">1.2</text>
<text class="t" x="45.1" y="344.1" text-anchor="end">1.2</text>
<text class="t" x="308.8" y="562.8" text-anchor="middle">1.4</text>
<text class="t" x="45.1" y="292.6" text-anchor="end">1.4</text>
<text class="t" x="360.4" y="562.8" text-anchor="middle">1.6</text>
<text class="t" x="45.1" y="241.1" text-anchor="end">1.6</text>
<text class="t" x="412.0" y="562.8" text-anchor="middle">1.8</text>
<text class="t" x="45.1" y="189.5" text-anchor="end">1.8</text>
<text class="t" x="463.1" y="562.8" text-anchor="middle">2</text>
<text class="t" x="45.1" y="138.0" text-anchor="end">2</text>
<text class="t" x="515.3" y="562.8" text-anchor="middle">2.2</text>
<text class="t" x="45.1" y="86.5" text-anchor="end">2.2</text>
<text class="t" x="566.9" y="562.8" text-anchor="middle">2.4</text>
<text class="t" x="45.1" y="35.0" text-anchor="end">2.4</text>
<text class="l" x="321.6" y="580.7" text-anchor="middle">A-B bond distance (Å)</text>
<text class="l" transform="translate(17.1,273.3) rotate(-90)" text-anchor="middle">B-C bond distance (Å)</text>
</g>
</svg></body></html>
